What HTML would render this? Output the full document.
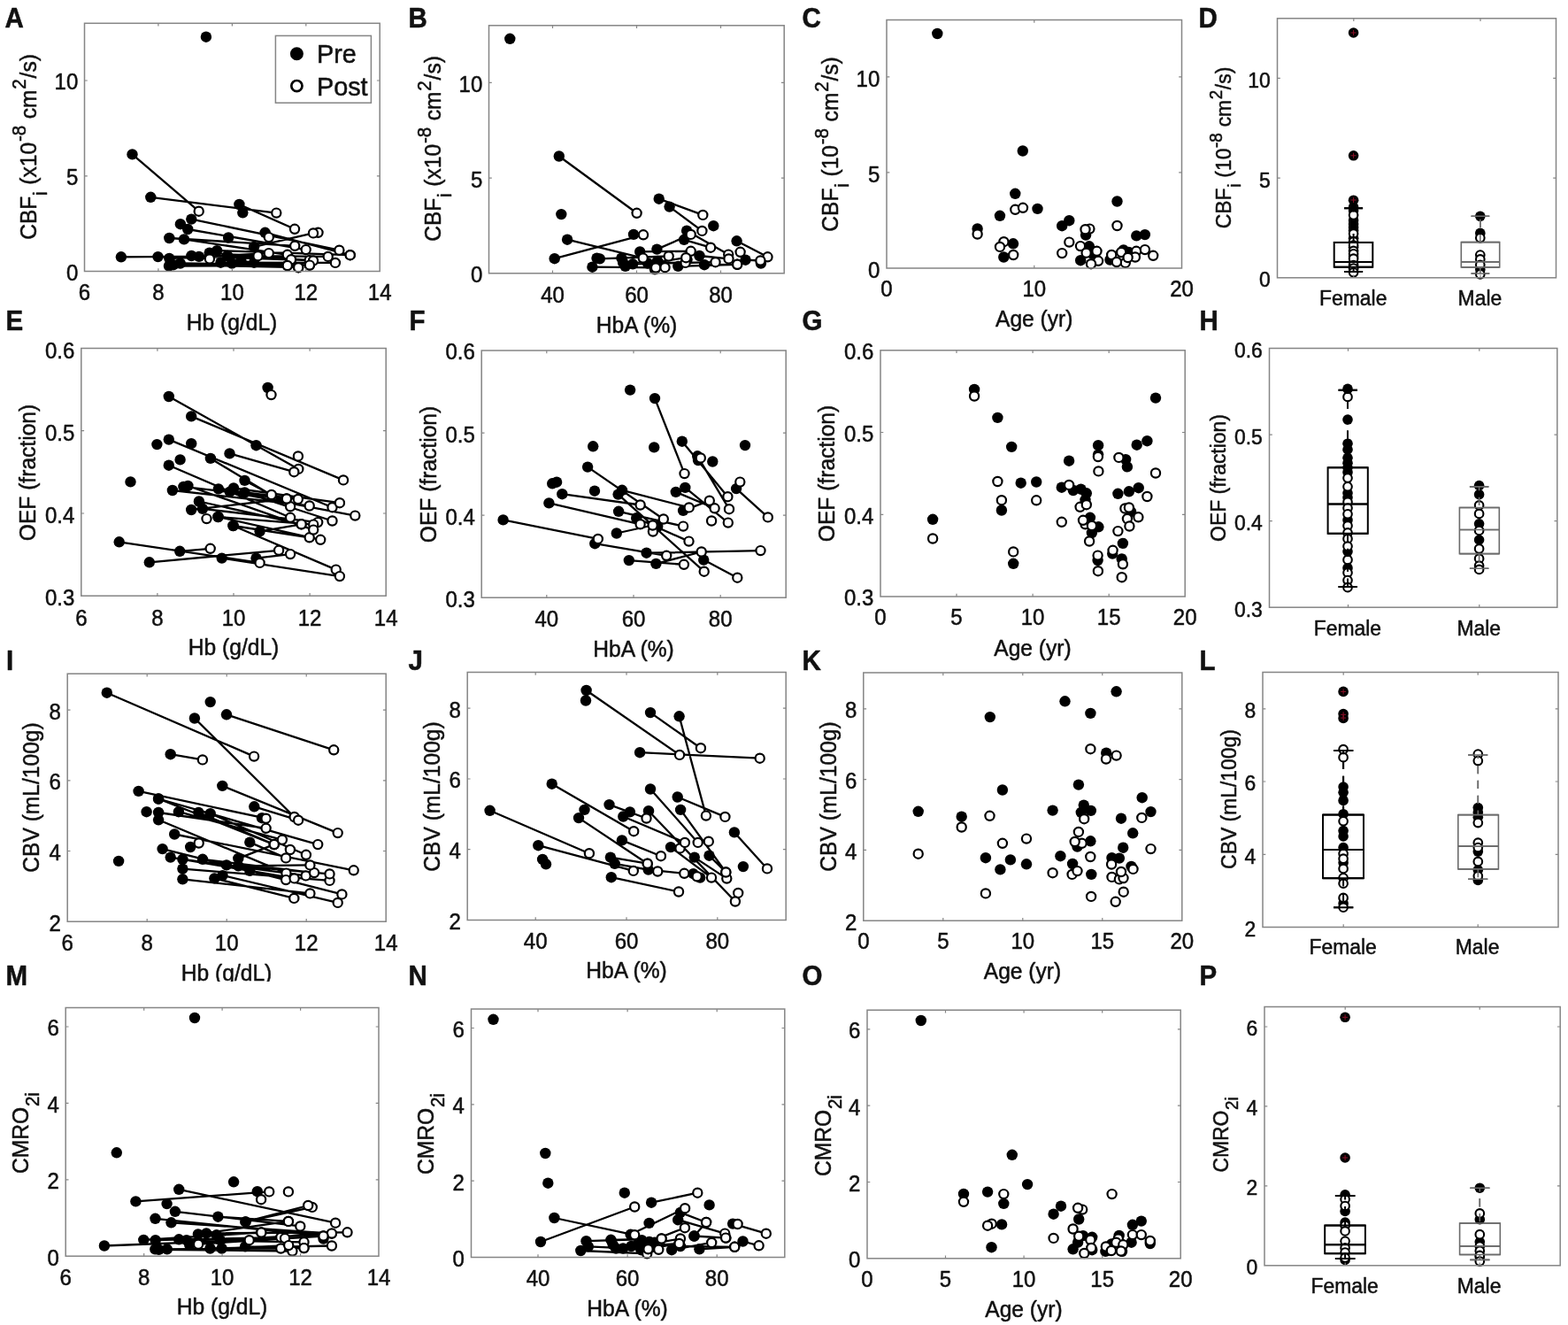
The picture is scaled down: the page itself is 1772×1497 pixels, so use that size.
<!DOCTYPE html>
<html lang="en">
<head>
<meta charset="utf-8">
<title>Figure: CBFi, OEF, CBV and CMRO2i versus Hb, HbA, age and sex (pre and post transfusion)</title>
<style>
html,body{margin:0;padding:0;background:#fff;}
body{width:1772px;height:1497px;overflow:hidden;}
svg{display:block;font-family:"Liberation Sans",Arial,Helvetica,sans-serif;fill:#111;}
text{stroke:#111;stroke-width:0.5px;stroke-linejoin:round;}
</style>
</head>
<body>
<svg width="1772" height="1497" viewBox="0 0 1772 1497">
<rect x="0" y="0" width="1772" height="1497" fill="#fff"/>
<g id="panel-A">
<path d="M149.5 174.4L224.7 238.7M170.3 222.8L312.3 240.6M270.4 231L333 258.8M216.3 247.6L383.4 282.7M212.2 259L345.7 282.1M191.3 269L333.2 277.8M208 270.4L324.8 287.8M287.1 278.9L354 263.4M136.9 290.3L291.5 289.2M191.3 292L303.8 286.1M191 300.5L324.8 300M196.1 299.2L337.2 302.2M203.7 297.5L349.9 299.6M216.4 289L329 293.3M224.9 289.9L349.7 294.1M236.7 285.6L354 294.5M245.2 283.1L395.7 288.2M249.4 296.7L378.9 296.9M262.1 297.5L324.8 300M257.1 289L370.7 289.9M272.3 295L337.2 302.2M287.1 296.7L349.9 299.6M299.6 262.8L395.7 288.2M178.5 290.1L236.9 292.4" stroke="#000" stroke-width="2.3" fill="none"/>
<g fill="#000"><circle cx="274.3" cy="240.3" r="6.2"/><circle cx="203.9" cy="253.2" r="6.2"/><circle cx="258.1" cy="268.5" r="6.2"/><circle cx="232.9" cy="41.7" r="6.2"/><circle cx="149.5" cy="174.4" r="6.2"/><circle cx="170.3" cy="222.8" r="6.2"/><circle cx="270.4" cy="231" r="6.2"/><circle cx="216.3" cy="247.6" r="6.2"/><circle cx="212.2" cy="259" r="6.2"/><circle cx="191.3" cy="269" r="6.2"/><circle cx="208" cy="270.4" r="6.2"/><circle cx="287.1" cy="278.9" r="6.2"/><circle cx="136.9" cy="290.3" r="6.2"/><circle cx="191.3" cy="292" r="6.2"/><circle cx="191" cy="300.5" r="6.2"/><circle cx="196.1" cy="299.2" r="6.2"/><circle cx="203.7" cy="297.5" r="6.2"/><circle cx="216.4" cy="289" r="6.2"/><circle cx="224.9" cy="289.9" r="6.2"/><circle cx="236.7" cy="285.6" r="6.2"/><circle cx="245.2" cy="283.1" r="6.2"/><circle cx="249.4" cy="296.7" r="6.2"/><circle cx="262.1" cy="297.5" r="6.2"/><circle cx="257.1" cy="289" r="6.2"/><circle cx="272.3" cy="295" r="6.2"/><circle cx="287.1" cy="296.7" r="6.2"/><circle cx="299.6" cy="262.8" r="6.2"/><circle cx="178.5" cy="290.1" r="6.2"/></g>
<g fill="#fff" stroke="#000" stroke-width="2.2"><circle cx="359.5" cy="262.8" r="5.1"/><circle cx="303.8" cy="268.1" r="5.1"/><circle cx="224.7" cy="238.7" r="5.1"/><circle cx="312.3" cy="240.6" r="5.1"/><circle cx="333" cy="258.8" r="5.1"/><circle cx="383.4" cy="282.7" r="5.1"/><circle cx="345.7" cy="282.1" r="5.1"/><circle cx="333.2" cy="277.8" r="5.1"/><circle cx="324.8" cy="287.8" r="5.1"/><circle cx="354" cy="263.4" r="5.1"/><circle cx="291.5" cy="289.2" r="5.1"/><circle cx="303.8" cy="286.1" r="5.1"/><circle cx="324.8" cy="300" r="5.1"/><circle cx="337.2" cy="302.2" r="5.1"/><circle cx="349.9" cy="299.6" r="5.1"/><circle cx="329" cy="293.3" r="5.1"/><circle cx="349.7" cy="294.1" r="5.1"/><circle cx="354" cy="294.5" r="5.1"/><circle cx="395.7" cy="288.2" r="5.1"/><circle cx="378.9" cy="296.9" r="5.1"/><circle cx="324.8" cy="300" r="5.1"/><circle cx="370.7" cy="289.9" r="5.1"/><circle cx="337.2" cy="302.2" r="5.1"/><circle cx="349.9" cy="299.6" r="5.1"/><circle cx="395.7" cy="288.2" r="5.1"/><circle cx="236.9" cy="292.4" r="5.1"/></g>
<rect x="95.5" y="26.3" width="333.7" height="280.2" fill="none" stroke="#858585" stroke-width="1.5"/>
<path d="M178.9 306.5v-3.3M178.9 26.3v3.3M262.4 306.5v-3.3M262.4 26.3v3.3M345.8 306.5v-3.3M345.8 26.3v3.3M95.5 198.8h3.3M429.2 198.8h-3.3M95.5 91h3.3M429.2 91h-3.3" stroke="#858585" stroke-width="1.2" fill="none"/>
<text transform="translate(95.5 339.2) scale(1 1.04)" text-anchor="middle" font-size="24">6</text>
<text transform="translate(178.9 339.2) scale(1 1.04)" text-anchor="middle" font-size="24">8</text>
<text transform="translate(262.4 339.2) scale(1 1.04)" text-anchor="middle" font-size="24">10</text>
<text transform="translate(345.8 339.2) scale(1 1.04)" text-anchor="middle" font-size="24">12</text>
<text transform="translate(429.2 339.2) scale(1 1.04)" text-anchor="middle" font-size="24">14</text>
<text transform="translate(88.3 316.9) scale(1 1.04)" text-anchor="end" font-size="24">0</text>
<text transform="translate(88.3 209.2) scale(1 1.04)" text-anchor="end" font-size="24">5</text>
<text transform="translate(88.3 101.4) scale(1 1.04)" text-anchor="end" font-size="24">10</text>
<text transform="translate(262 373) scale(1 1.04)" text-anchor="middle" font-size="24.6">Hb (g/dL)</text>
<text transform="translate(40.5 166) rotate(-90) scale(1 1.04)" text-anchor="middle" font-size="24.6">CBF<tspan dy="12" dx="0.8" font-size="20.5">i</tspan><tspan dy="-12" dx="0.8"> (x10</tspan><tspan dy="-10.8" dx="0.8" font-size="20.5">-8</tspan><tspan dy="10.8" dx="0.8"> cm</tspan><tspan dy="-10.8" dx="0.8" font-size="20.5">2</tspan><tspan dy="10.8" dx="0.8">/s)</tspan></text>
<text transform="translate(5.4 30.8) scale(1 1.04)" text-anchor="start" font-size="29.5" font-weight="bold">A</text>
<rect x="311.4" y="40.4" width="108" height="75.8" fill="#fff" stroke="#858585" stroke-width="1.5"/>
<circle cx="335.4" cy="60.8" r="7.5" fill="#000"/>
<circle cx="335.4" cy="97.1" r="6.1" fill="#fff" stroke="#000" stroke-width="2.7"/>
<text transform="translate(358 71) scale(1 1.04)" text-anchor="start" font-size="28.8">Pre</text>
<text transform="translate(358 107.6) scale(1 1.04)" text-anchor="start" font-size="28.8">Post</text>
</g>
<g id="panel-B">
<path d="M631.8 176.5L719.6 240.8M641.1 270.7L726.7 291.6M626.7 292.2L727 265.3M744.7 224.7L794.3 242.9M756.6 233.6L793.4 260.9M742.4 281.6L780.7 264.9M776.1 260.7L823.2 287.6M773.1 270.8L803.1 279.7M832.6 272.3L867.5 290.3M842.5 293.7L859.4 294.5M790.4 289L823.5 292.4M723.2 284.4L780.7 283.8M677.8 292.4L755.7 289.5M669.4 301.7L741.1 302.4M704.1 296.7L774.6 296.9M715.1 298.3L808.5 296.2M732.1 297.5L775.2 291.2M796 299.2L833.2 298.8M766.3 300.9L833.2 298.8M743.1 295L751.5 302.2" stroke="#000" stroke-width="2.3" fill="none"/>
<g fill="#000"><circle cx="634.3" cy="242.1" r="6.2"/><circle cx="806.3" cy="255.2" r="6.2"/><circle cx="576.3" cy="43.8" r="6.2"/><circle cx="859.9" cy="297.5" r="6.2"/><circle cx="716" cy="264.9" r="6.2"/><circle cx="674.5" cy="291.6" r="6.2"/><circle cx="702.4" cy="291.6" r="6.2"/><circle cx="706.7" cy="300.9" r="6.2"/><circle cx="740" cy="304.3" r="6.2"/><circle cx="776.5" cy="293.3" r="6.2"/><circle cx="631.8" cy="176.5" r="6.2"/><circle cx="641.1" cy="270.7" r="6.2"/><circle cx="626.7" cy="292.2" r="6.2"/><circle cx="744.7" cy="224.7" r="6.2"/><circle cx="756.6" cy="233.6" r="6.2"/><circle cx="742.4" cy="281.6" r="6.2"/><circle cx="776.1" cy="260.7" r="6.2"/><circle cx="773.1" cy="270.8" r="6.2"/><circle cx="832.6" cy="272.3" r="6.2"/><circle cx="842.5" cy="293.7" r="6.2"/><circle cx="790.4" cy="289" r="6.2"/><circle cx="723.2" cy="284.4" r="6.2"/><circle cx="677.8" cy="292.4" r="6.2"/><circle cx="669.4" cy="301.7" r="6.2"/><circle cx="704.1" cy="296.7" r="6.2"/><circle cx="715.1" cy="298.3" r="6.2"/><circle cx="732.1" cy="297.5" r="6.2"/><circle cx="796" cy="299.2" r="6.2"/><circle cx="766.3" cy="300.9" r="6.2"/><circle cx="743.1" cy="295" r="6.2"/></g>
<g fill="#fff" stroke="#000" stroke-width="2.2"><circle cx="836.6" cy="284.8" r="5.1"/><circle cx="719.6" cy="240.8" r="5.1"/><circle cx="726.7" cy="291.6" r="5.1"/><circle cx="727" cy="265.3" r="5.1"/><circle cx="794.3" cy="242.9" r="5.1"/><circle cx="793.4" cy="260.9" r="5.1"/><circle cx="780.7" cy="264.9" r="5.1"/><circle cx="823.2" cy="287.6" r="5.1"/><circle cx="803.1" cy="279.7" r="5.1"/><circle cx="867.5" cy="290.3" r="5.1"/><circle cx="859.4" cy="294.5" r="5.1"/><circle cx="823.5" cy="292.4" r="5.1"/><circle cx="780.7" cy="283.8" r="5.1"/><circle cx="755.7" cy="289.5" r="5.1"/><circle cx="741.1" cy="302.4" r="5.1"/><circle cx="774.6" cy="296.9" r="5.1"/><circle cx="808.5" cy="296.2" r="5.1"/><circle cx="775.2" cy="291.2" r="5.1"/><circle cx="833.2" cy="298.8" r="5.1"/><circle cx="833.2" cy="298.8" r="5.1"/><circle cx="751.5" cy="302.2" r="5.1"/></g>
<rect x="552.5" y="28.8" width="333.7" height="280" fill="none" stroke="#858585" stroke-width="1.5"/>
<path d="M624.5 308.8v-3.3M624.5 28.8v3.3M719.5 308.8v-3.3M719.5 28.8v3.3M814.5 308.8v-3.3M814.5 28.8v3.3M552.5 201.1h3.3M886.2 201.1h-3.3M552.5 93.3h3.3M886.2 93.3h-3.3" stroke="#858585" stroke-width="1.2" fill="none"/>
<text transform="translate(624.5 341.7) scale(1 1.04)" text-anchor="middle" font-size="24">40</text>
<text transform="translate(719.5 341.7) scale(1 1.04)" text-anchor="middle" font-size="24">60</text>
<text transform="translate(814.5 341.7) scale(1 1.04)" text-anchor="middle" font-size="24">80</text>
<text transform="translate(545.3 319.2) scale(1 1.04)" text-anchor="end" font-size="24">0</text>
<text transform="translate(545.3 211.5) scale(1 1.04)" text-anchor="end" font-size="24">5</text>
<text transform="translate(545.3 103.7) scale(1 1.04)" text-anchor="end" font-size="24">10</text>
<text transform="translate(719.5 375.5) scale(1 1.04)" text-anchor="middle" font-size="24.6">HbA (%)</text>
<text transform="translate(497.8 168) rotate(-90) scale(1 1.04)" text-anchor="middle" font-size="24.6">CBF<tspan dy="12" dx="0.8" font-size="20.5">i</tspan><tspan dy="-12" dx="0.8"> (x10</tspan><tspan dy="-10.8" dx="0.8" font-size="20.5">-8</tspan><tspan dy="10.8" dx="0.8"> cm</tspan><tspan dy="-10.8" dx="0.8" font-size="20.5">2</tspan><tspan dy="10.8" dx="0.8">/s)</tspan></text>
<text transform="translate(461.4 30.8) scale(1 1.04)" text-anchor="start" font-size="29.5" font-weight="bold">B</text>
</g>
<g id="panel-C">
<g fill="#000"><circle cx="1059.3" cy="38" r="6.2"/><circle cx="1155.8" cy="170.5" r="6.2"/><circle cx="1147.3" cy="218.8" r="6.2"/><circle cx="1172.5" cy="235.9" r="6.2"/><circle cx="1130" cy="243.8" r="6.2"/><circle cx="1104.6" cy="258.4" r="6.2"/><circle cx="1208.3" cy="249.2" r="6.2"/><circle cx="1200.2" cy="255.2" r="6.2"/><circle cx="1145" cy="275.3" r="6.2"/><circle cx="1134.3" cy="290.5" r="6.2"/><circle cx="1227.1" cy="265.6" r="6.2"/><circle cx="1230.9" cy="278.3" r="6.2"/><circle cx="1221.2" cy="294.2" r="6.2"/><circle cx="1262.5" cy="227.5" r="6.2"/><circle cx="1284.3" cy="266.4" r="6.2"/><circle cx="1293.9" cy="265.1" r="6.2"/><circle cx="1269.7" cy="282.5" r="6.2"/><circle cx="1275.7" cy="285" r="6.2"/><circle cx="1254.5" cy="293.5" r="6.2"/><circle cx="1234.2" cy="286.7" r="6.2"/></g>
<g fill="#fff" stroke="#000" stroke-width="2.2"><circle cx="1147.3" cy="236.8" r="5.1"/><circle cx="1156" cy="234.8" r="5.1"/><circle cx="1104.6" cy="264.5" r="5.1"/><circle cx="1134.4" cy="273.2" r="5.1"/><circle cx="1130" cy="278.9" r="5.1"/><circle cx="1145.2" cy="288" r="5.1"/><circle cx="1208.3" cy="273.6" r="5.1"/><circle cx="1200.2" cy="286.1" r="5.1"/><circle cx="1231.4" cy="258.6" r="5.1"/><circle cx="1226.5" cy="259.2" r="5.1"/><circle cx="1221" cy="278.1" r="5.1"/><circle cx="1239.5" cy="283.8" r="5.1"/><circle cx="1227.6" cy="285.7" r="5.1"/><circle cx="1241.1" cy="294.8" r="5.1"/><circle cx="1233" cy="298.2" r="5.1"/><circle cx="1262.5" cy="255" r="5.1"/><circle cx="1256.2" cy="288" r="5.1"/><circle cx="1284.1" cy="283.8" r="5.1"/><circle cx="1282.9" cy="290.5" r="5.1"/><circle cx="1267.2" cy="285" r="5.1"/><circle cx="1271.8" cy="296.9" r="5.1"/><circle cx="1261.9" cy="296" r="5.1"/><circle cx="1274.6" cy="291" r="5.1"/><circle cx="1293.9" cy="282.1" r="5.1"/><circle cx="1303.2" cy="288.8" r="5.1"/></g>
<rect x="1002" y="22.5" width="333.5" height="280.5" fill="none" stroke="#858585" stroke-width="1.5"/>
<path d="M1168.8 303v-3.3M1168.8 22.5v3.3M1002 194.9h3.3M1335.5 194.9h-3.3M1002 86.8h3.3M1335.5 86.8h-3.3" stroke="#858585" stroke-width="1.2" fill="none"/>
<text transform="translate(1002 335.2) scale(1 1.04)" text-anchor="middle" font-size="24">0</text>
<text transform="translate(1168.8 335.2) scale(1 1.04)" text-anchor="middle" font-size="24">10</text>
<text transform="translate(1335.5 335.2) scale(1 1.04)" text-anchor="middle" font-size="24">20</text>
<text transform="translate(994.3 313.9) scale(1 1.04)" text-anchor="end" font-size="24">0</text>
<text transform="translate(994.3 205.8) scale(1 1.04)" text-anchor="end" font-size="24">5</text>
<text transform="translate(994.3 97.7) scale(1 1.04)" text-anchor="end" font-size="24">10</text>
<text transform="translate(1168.7 369) scale(1 1.04)" text-anchor="middle" font-size="24.6">Age (yr)</text>
<text transform="translate(947 163) rotate(-90) scale(1 1.04)" text-anchor="middle" font-size="24.6">CBF<tspan dy="12" dx="0.8" font-size="20.5">i</tspan><tspan dy="-12" dx="0.8"> (10</tspan><tspan dy="-10.8" dx="0.8" font-size="20.5">-8</tspan><tspan dy="10.8" dx="0.8"> cm</tspan><tspan dy="-10.8" dx="0.8" font-size="20.5">2</tspan><tspan dy="10.8" dx="0.8">/s)</tspan></text>
<text transform="translate(906.4 30.8) scale(1 1.04)" text-anchor="start" font-size="29.5" font-weight="bold">C</text>
</g>
<g id="panel-D">
<path d="M1526.1 37h7M1529.6 33.5v7" stroke="#a01030" stroke-width="1.1"/>
<path d="M1526.1 175.8h7M1529.6 172.3v7" stroke="#a01030" stroke-width="1.1"/>
<path d="M1526.1 226h7M1529.6 222.5v7" stroke="#a01030" stroke-width="1.1"/>
<path d="M1529.6 235.3V273.9" stroke="#000" stroke-width="2.0" stroke-dasharray="9.3 7.6" stroke-dashoffset="5" fill="none"/><path d="M1529.6 301.7V307" stroke="#000" stroke-width="2.0" stroke-dasharray="9.3 7.6" stroke-dashoffset="0" fill="none"/>
<path d="M1519.1 235.3H1540.1M1519.1 307H1540.1M1507.7 295.9H1551.3" stroke="#000" stroke-width="2.0" fill="none"/>
<rect x="1507.7" y="273.9" width="43.6" height="27.8" fill="none" stroke="#000" stroke-width="2.0"/>
<path d="M1672.8 244.3V273.6" stroke="#6b6b6b" stroke-width="1.6" stroke-dasharray="9.3 8.1" stroke-dashoffset="14" fill="none"/><path d="M1672.8 301.9V309" stroke="#6b6b6b" stroke-width="1.6" stroke-dasharray="9.3 8.1" stroke-dashoffset="0" fill="none"/>
<path d="M1662.5 244.3H1683.3M1662.5 309H1683.3M1651.3 295.9H1694.7" stroke="#6b6b6b" stroke-width="1.6" fill="none"/>
<rect x="1651.3" y="273.6" width="43.4" height="28.3" fill="none" stroke="#6b6b6b" stroke-width="1.6"/>
<circle cx="1529.6" cy="37" r="5.8" fill="#000"/><circle cx="1529.6" cy="175.8" r="5.8" fill="#000"/><circle cx="1529.6" cy="226.2" r="5.8" fill="#000"/><circle cx="1529.6" cy="234" r="5.8" fill="#000"/><circle cx="1529.6" cy="238" r="5.8" fill="#000"/><circle cx="1529.6" cy="249" r="5.8" fill="#000"/><circle cx="1529.6" cy="253" r="5.8" fill="#000"/><circle cx="1529.6" cy="257" r="5.8" fill="#000"/><circle cx="1529.6" cy="260.5" r="5.8" fill="#000"/><circle cx="1529.6" cy="269.2" r="5.8" fill="#000"/><circle cx="1529.6" cy="279.3" r="5.8" fill="#000"/><circle cx="1529.6" cy="290" r="5.8" fill="#000"/><circle cx="1529.6" cy="296.5" r="5.8" fill="#000"/><circle cx="1529.6" cy="304" r="5.8" fill="#000"/><circle cx="1529.6" cy="243.1" r="4.800000000000001" fill="#fff" stroke="#000" stroke-width="2.1"/><circle cx="1529.6" cy="264.1" r="4.800000000000001" fill="#fff" stroke="#000" stroke-width="2.1"/><circle cx="1529.6" cy="272.9" r="4.800000000000001" fill="#fff" stroke="#000" stroke-width="2.1"/><circle cx="1529.6" cy="277" r="4.800000000000001" fill="#fff" stroke="#000" stroke-width="2.1"/><circle cx="1529.6" cy="283.4" r="4.800000000000001" fill="#fff" stroke="#000" stroke-width="2.1"/><circle cx="1529.6" cy="286.8" r="4.800000000000001" fill="#fff" stroke="#000" stroke-width="2.1"/><circle cx="1529.6" cy="292.2" r="4.800000000000001" fill="#fff" stroke="#000" stroke-width="2.1"/><circle cx="1529.6" cy="299.6" r="4.800000000000001" fill="#fff" stroke="#000" stroke-width="2.1"/><circle cx="1529.6" cy="303" r="4.800000000000001" fill="#fff" stroke="#000" stroke-width="2.1"/><circle cx="1529.6" cy="307.8" r="4.800000000000001" fill="#fff" stroke="#000" stroke-width="2.1"/><circle cx="1672.8" cy="244.3" r="5.8" fill="#000"/><circle cx="1672.8" cy="263.4" r="5.8" fill="#000"/><circle cx="1672.8" cy="304.4" r="5.8" fill="#000"/><circle cx="1672.8" cy="268.8" r="4.800000000000001" fill="#fff" stroke="#000" stroke-width="2.1"/><circle cx="1672.8" cy="288.1" r="4.800000000000001" fill="#fff" stroke="#000" stroke-width="2.1"/><circle cx="1672.8" cy="292.9" r="4.800000000000001" fill="#fff" stroke="#000" stroke-width="2.1"/><circle cx="1672.8" cy="299.3" r="4.800000000000001" fill="#fff" stroke="#000" stroke-width="2.1"/><circle cx="1672.8" cy="309.8" r="4.800000000000001" fill="#fff" stroke="#000" stroke-width="2.1"/>
<path d="M1519.1 235.3H1540.1M1519.1 307H1540.1M1507.7 295.9H1551.3M1507.7 273.9H1551.3M1507.7 301.7H1551.3" stroke="#000" stroke-width="2.0" fill="none" opacity="1"/>
<path d="M1529.6 235.3V273.9" stroke="#000" stroke-width="2.0" stroke-dasharray="9.3 7.6" stroke-dashoffset="5" fill="none"/><path d="M1529.6 301.7V307" stroke="#000" stroke-width="2.0" stroke-dasharray="9.3 7.6" stroke-dashoffset="0" fill="none"/>
<path d="M1526.6 37h6M1529.6 34v6" stroke="#8e1028" stroke-width="1"/>
<path d="M1526.6 175.8h6M1529.6 172.8v6" stroke="#8e1028" stroke-width="1"/>
<path d="M1526.6 226h6M1529.6 223v6" stroke="#8e1028" stroke-width="1"/>
<path d="M1662.5 244.3H1683.3M1662.5 309H1683.3M1651.3 295.9H1694.7M1651.3 273.6H1694.7M1651.3 301.9H1694.7" stroke="#6b6b6b" stroke-width="1.6" fill="none" opacity="1"/>
<path d="M1672.8 244.3V273.6" stroke="#6b6b6b" stroke-width="1.6" stroke-dasharray="9.3 8.1" stroke-dashoffset="14" fill="none"/><path d="M1672.8 301.9V309" stroke="#6b6b6b" stroke-width="1.6" stroke-dasharray="9.3 8.1" stroke-dashoffset="0" fill="none"/>
<rect x="1443.5" y="20.8" width="315" height="293" fill="none" stroke="#858585" stroke-width="1.5"/>
<path d="M1529.8 313.8v-3.3M1529.8 20.8v3.3M1673 313.8v-3.3M1673 20.8v3.3M1443.5 201.1h3.3M1758.5 201.1h-3.3M1443.5 88.3h3.3M1758.5 88.3h-3.3" stroke="#858585" stroke-width="1.2" fill="none"/>
<text transform="translate(1529.2 344.5) scale(1 1.04)" text-anchor="middle" font-size="22.9">Female</text>
<text transform="translate(1672.4 344.5) scale(1 1.04)" text-anchor="middle" font-size="22.9">Male</text>
<text transform="translate(1435.8 324.2) scale(1 1.04)" text-anchor="end" font-size="22.9">0</text>
<text transform="translate(1435.8 211.5) scale(1 1.04)" text-anchor="end" font-size="22.9">5</text>
<text transform="translate(1435.8 98.7) scale(1 1.04)" text-anchor="end" font-size="22.9">10</text>
<text transform="translate(1391 167) rotate(-90) scale(1 1.04)" text-anchor="middle" font-size="22.9">CBF<tspan dy="11" dx="0.6" font-size="18.8">i</tspan><tspan dy="-11" dx="0.6"> (10</tspan><tspan dy="-10" dx="0.6" font-size="18.8">-8</tspan><tspan dy="10" dx="0.6"> cm</tspan><tspan dy="-10" dx="0.6" font-size="18.8">2</tspan><tspan dy="10" dx="0.6">/s)</tspan></text>
<text transform="translate(1354.4 30.8) scale(1 1.04)" text-anchor="start" font-size="29.5" font-weight="bold">D</text>
</g>
<g id="panel-E">
<path d="M190.8 448L337.3 529.9M216.2 470.4L388 542.4M259.5 512.4L332.3 533.2M190.8 496.6L375.5 573.2M237.9 517.9L328.1 572.3M190.8 525.7L328.1 584.8M276.5 542.9L306.8 559M246.9 552.4L336.8 564M194.9 554L349.7 571.5M207.4 549.9L323.9 563.5M264 551.5L383.9 568.2M259.8 555.7L401.3 582.6M276.5 556.5L375.5 588.5M224.9 566.5L340.6 592.3M229 574.8L359.2 590.1M216.2 576L323.9 563.5M246.5 584L354.2 592.6M263.5 594L379.7 643.6M293.6 600.3L340.6 592.3M263.5 594L349.7 607.3M246.5 584L362.2 609.8M134.7 612.3L293.6 635.9M203.2 622.8L237.7 619.8M168.8 635.3L315.1 621.8M250.7 630.6L383.9 651.1M289.5 630.6L328.1 626.1M212.4 549L354.2 598.6" stroke="#000" stroke-width="2.3" fill="none"/>
<g fill="#000"><circle cx="302.6" cy="438" r="6.2"/><circle cx="177.4" cy="502.1" r="6.2"/><circle cx="216.2" cy="501.2" r="6.2"/><circle cx="289.5" cy="503.2" r="6.2"/><circle cx="203.6" cy="519.4" r="6.2"/><circle cx="147.5" cy="544.4" r="6.2"/><circle cx="190.8" cy="448" r="6.2"/><circle cx="216.2" cy="470.4" r="6.2"/><circle cx="259.5" cy="512.4" r="6.2"/><circle cx="190.8" cy="496.6" r="6.2"/><circle cx="237.9" cy="517.9" r="6.2"/><circle cx="190.8" cy="525.7" r="6.2"/><circle cx="276.5" cy="542.9" r="6.2"/><circle cx="246.9" cy="552.4" r="6.2"/><circle cx="194.9" cy="554" r="6.2"/><circle cx="207.4" cy="549.9" r="6.2"/><circle cx="264" cy="551.5" r="6.2"/><circle cx="259.8" cy="555.7" r="6.2"/><circle cx="276.5" cy="556.5" r="6.2"/><circle cx="224.9" cy="566.5" r="6.2"/><circle cx="229" cy="574.8" r="6.2"/><circle cx="216.2" cy="576" r="6.2"/><circle cx="246.5" cy="584" r="6.2"/><circle cx="263.5" cy="594" r="6.2"/><circle cx="293.6" cy="600.3" r="6.2"/><circle cx="263.5" cy="594" r="6.2"/><circle cx="246.5" cy="584" r="6.2"/><circle cx="134.7" cy="612.3" r="6.2"/><circle cx="203.2" cy="622.8" r="6.2"/><circle cx="168.8" cy="635.3" r="6.2"/><circle cx="250.7" cy="630.6" r="6.2"/><circle cx="289.5" cy="630.6" r="6.2"/><circle cx="212.4" cy="549" r="6.2"/></g>
<g fill="#fff" stroke="#000" stroke-width="2.2"><circle cx="306.5" cy="446.1" r="5.1"/><circle cx="336.9" cy="515.4" r="5.1"/><circle cx="233.5" cy="586.1" r="5.1"/><circle cx="337.3" cy="529.9" r="5.1"/><circle cx="388" cy="542.4" r="5.1"/><circle cx="332.3" cy="533.2" r="5.1"/><circle cx="375.5" cy="573.2" r="5.1"/><circle cx="328.1" cy="572.3" r="5.1"/><circle cx="328.1" cy="584.8" r="5.1"/><circle cx="306.8" cy="559" r="5.1"/><circle cx="336.8" cy="564" r="5.1"/><circle cx="349.7" cy="571.5" r="5.1"/><circle cx="323.9" cy="563.5" r="5.1"/><circle cx="383.9" cy="568.2" r="5.1"/><circle cx="401.3" cy="582.6" r="5.1"/><circle cx="375.5" cy="588.5" r="5.1"/><circle cx="340.6" cy="592.3" r="5.1"/><circle cx="359.2" cy="590.1" r="5.1"/><circle cx="323.9" cy="563.5" r="5.1"/><circle cx="354.2" cy="592.6" r="5.1"/><circle cx="379.7" cy="643.6" r="5.1"/><circle cx="340.6" cy="592.3" r="5.1"/><circle cx="349.7" cy="607.3" r="5.1"/><circle cx="362.2" cy="609.8" r="5.1"/><circle cx="293.6" cy="635.9" r="5.1"/><circle cx="237.7" cy="619.8" r="5.1"/><circle cx="315.1" cy="621.8" r="5.1"/><circle cx="383.9" cy="651.1" r="5.1"/><circle cx="328.1" cy="626.1" r="5.1"/><circle cx="354.2" cy="598.6" r="5.1"/></g>
<rect x="91.8" y="393.5" width="344.4" height="279.7" fill="none" stroke="#858585" stroke-width="1.5"/>
<path d="M177.9 673.2v-3.3M177.9 393.5v3.3M264 673.2v-3.3M264 393.5v3.3M350.1 673.2v-3.3M350.1 393.5v3.3M91.8 580h3.3M436.2 580h-3.3M91.8 486.7h3.3M436.2 486.7h-3.3" stroke="#858585" stroke-width="1.2" fill="none"/>
<text transform="translate(91.8 706.7) scale(1 1.04)" text-anchor="middle" font-size="24">6</text>
<text transform="translate(177.9 706.7) scale(1 1.04)" text-anchor="middle" font-size="24">8</text>
<text transform="translate(264 706.7) scale(1 1.04)" text-anchor="middle" font-size="24">10</text>
<text transform="translate(350.1 706.7) scale(1 1.04)" text-anchor="middle" font-size="24">12</text>
<text transform="translate(436.2 706.7) scale(1 1.04)" text-anchor="middle" font-size="24">14</text>
<text transform="translate(84.3 684.2) scale(1 1.04)" text-anchor="end" font-size="24">0.3</text>
<text transform="translate(84.3 591) scale(1 1.04)" text-anchor="end" font-size="24">0.4</text>
<text transform="translate(84.3 497.7) scale(1 1.04)" text-anchor="end" font-size="24">0.5</text>
<text transform="translate(84.3 404.5) scale(1 1.04)" text-anchor="end" font-size="24">0.6</text>
<text transform="translate(264 739.5) scale(1 1.04)" text-anchor="middle" font-size="24.6">Hb (g/dL)</text>
<text transform="translate(39.5 534) rotate(-90) scale(1 1.04)" text-anchor="middle" font-size="24.6">OEF (fraction)</text>
<text transform="translate(6.4 372.7) scale(1 1.04)" text-anchor="start" font-size="29.5" font-weight="bold">E</text>
</g>
<g id="panel-F">
<path d="M740 450.1L773.5 535.1M770.8 498.7L822.4 561.2M788.2 515.3L824 575.2M664.1 527.6L749.8 586.5M703 553.8L778.7 573.4M698.6 558.6L795.7 645.7M635.3 558.2L723.6 570.5M620.4 568.4L723.6 592.3M568.6 587.4L675.8 608.9M672.3 614.2L753.2 627.8M730.6 624.7L859.5 622.1M741.4 636.9L792.7 623.5M710.8 633.1L772.9 637.8M795.2 632.6L833.3 652.7M832.1 552.1L867.8 584.4M772.1 576.9L801.8 565.7M763.8 555.9L807.6 574.3M774.3 550.9L822.8 590.6M699.1 577.8L772.1 594.6M719.2 585.3L778.5 611.6M696.8 602.5L737.6 593.5" stroke="#000" stroke-width="2.3" fill="none"/>
<g fill="#000"><circle cx="712.1" cy="440.6" r="6.2"/><circle cx="670.2" cy="504.3" r="6.2"/><circle cx="739.2" cy="505.4" r="6.2"/><circle cx="805.3" cy="521.5" r="6.2"/><circle cx="842" cy="503.1" r="6.2"/><circle cx="624.2" cy="546.3" r="6.2"/><circle cx="672" cy="554.7" r="6.2"/><circle cx="743.2" cy="594.9" r="6.2"/><circle cx="629.1" cy="544.7" r="6.2"/><circle cx="789" cy="520.1" r="6.2"/><circle cx="740" cy="450.1" r="6.2"/><circle cx="770.8" cy="498.7" r="6.2"/><circle cx="788.2" cy="515.3" r="6.2"/><circle cx="664.1" cy="527.6" r="6.2"/><circle cx="703" cy="553.8" r="6.2"/><circle cx="698.6" cy="558.6" r="6.2"/><circle cx="635.3" cy="558.2" r="6.2"/><circle cx="620.4" cy="568.4" r="6.2"/><circle cx="568.6" cy="587.4" r="6.2"/><circle cx="672.3" cy="614.2" r="6.2"/><circle cx="730.6" cy="624.7" r="6.2"/><circle cx="741.4" cy="636.9" r="6.2"/><circle cx="710.8" cy="633.1" r="6.2"/><circle cx="795.2" cy="632.6" r="6.2"/><circle cx="832.1" cy="552.1" r="6.2"/><circle cx="772.1" cy="576.9" r="6.2"/><circle cx="763.8" cy="555.9" r="6.2"/><circle cx="774.3" cy="550.9" r="6.2"/><circle cx="699.1" cy="577.8" r="6.2"/><circle cx="719.2" cy="585.3" r="6.2"/><circle cx="696.8" cy="602.5" r="6.2"/></g>
<g fill="#fff" stroke="#000" stroke-width="2.2"><circle cx="791.8" cy="517.4" r="5.1"/><circle cx="836.3" cy="544.6" r="5.1"/><circle cx="804.1" cy="588.5" r="5.1"/><circle cx="737.9" cy="600.5" r="5.1"/><circle cx="773.5" cy="535.1" r="5.1"/><circle cx="822.4" cy="561.2" r="5.1"/><circle cx="824" cy="575.2" r="5.1"/><circle cx="749.8" cy="586.5" r="5.1"/><circle cx="778.7" cy="573.4" r="5.1"/><circle cx="795.7" cy="645.7" r="5.1"/><circle cx="723.6" cy="570.5" r="5.1"/><circle cx="723.6" cy="592.3" r="5.1"/><circle cx="675.8" cy="608.9" r="5.1"/><circle cx="753.2" cy="627.8" r="5.1"/><circle cx="859.5" cy="622.1" r="5.1"/><circle cx="792.7" cy="623.5" r="5.1"/><circle cx="772.9" cy="637.8" r="5.1"/><circle cx="833.3" cy="652.7" r="5.1"/><circle cx="867.8" cy="584.4" r="5.1"/><circle cx="801.8" cy="565.7" r="5.1"/><circle cx="807.6" cy="574.3" r="5.1"/><circle cx="822.8" cy="590.6" r="5.1"/><circle cx="772.1" cy="594.6" r="5.1"/><circle cx="778.5" cy="611.6" r="5.1"/><circle cx="737.6" cy="593.5" r="5.1"/></g>
<rect x="544.2" y="396" width="344" height="279.2" fill="none" stroke="#858585" stroke-width="1.5"/>
<path d="M617.8 675.2v-3.3M617.8 396v3.3M716 675.2v-3.3M716 396v3.3M814.2 675.2v-3.3M814.2 396v3.3M544.2 582.1h3.3M888.2 582.1h-3.3M544.2 489.1h3.3M888.2 489.1h-3.3" stroke="#858585" stroke-width="1.2" fill="none"/>
<text transform="translate(617.8 707.7) scale(1 1.04)" text-anchor="middle" font-size="24">40</text>
<text transform="translate(716 707.7) scale(1 1.04)" text-anchor="middle" font-size="24">60</text>
<text transform="translate(814.2 707.7) scale(1 1.04)" text-anchor="middle" font-size="24">80</text>
<text transform="translate(536.8 685.6) scale(1 1.04)" text-anchor="end" font-size="24">0.3</text>
<text transform="translate(536.8 592.5) scale(1 1.04)" text-anchor="end" font-size="24">0.4</text>
<text transform="translate(536.8 499.5) scale(1 1.04)" text-anchor="end" font-size="24">0.5</text>
<text transform="translate(536.8 406.4) scale(1 1.04)" text-anchor="end" font-size="24">0.6</text>
<text transform="translate(716 742) scale(1 1.04)" text-anchor="middle" font-size="24.6">HbA (%)</text>
<text transform="translate(493.3 536) rotate(-90) scale(1 1.04)" text-anchor="middle" font-size="24.6">OEF (fraction)</text>
<text transform="translate(462.4 372.7) scale(1 1.04)" text-anchor="start" font-size="29.5" font-weight="bold">F</text>
</g>
<g id="panel-G">
<g fill="#000"><circle cx="1101.1" cy="440" r="6.2"/><circle cx="1127.4" cy="471.9" r="6.2"/><circle cx="1143.2" cy="504.9" r="6.2"/><circle cx="1306" cy="449.6" r="6.2"/><circle cx="1241.1" cy="503.2" r="6.2"/><circle cx="1284.7" cy="502.7" r="6.2"/><circle cx="1296.4" cy="498.2" r="6.2"/><circle cx="1208.1" cy="520.7" r="6.2"/><circle cx="1241.1" cy="513.6" r="6.2"/><circle cx="1272.2" cy="519.1" r="6.2"/><circle cx="1273.9" cy="527.4" r="6.2"/><circle cx="1153.7" cy="545.7" r="6.2"/><circle cx="1171.2" cy="544.5" r="6.2"/><circle cx="1199.8" cy="550.7" r="6.2"/><circle cx="1212.8" cy="554" r="6.2"/><circle cx="1221.5" cy="552.7" r="6.2"/><circle cx="1227.8" cy="557.3" r="6.2"/><circle cx="1263.4" cy="557.8" r="6.2"/><circle cx="1275.9" cy="555.3" r="6.2"/><circle cx="1286.7" cy="551.2" r="6.2"/><circle cx="1131.9" cy="576.5" r="6.2"/><circle cx="1054.1" cy="586.8" r="6.2"/><circle cx="1231.9" cy="584.8" r="6.2"/><circle cx="1241.4" cy="595.3" r="6.2"/><circle cx="1233.9" cy="602" r="6.2"/><circle cx="1268.9" cy="613.9" r="6.2"/><circle cx="1145.2" cy="636.8" r="6.2"/><circle cx="1240.6" cy="633.1" r="6.2"/><circle cx="1257.2" cy="625.6" r="6.2"/><circle cx="1267.7" cy="631.4" r="6.2"/><circle cx="1226.5" cy="564.8" r="6.2"/><circle cx="1278.1" cy="578.2" r="6.2"/></g>
<g fill="#fff" stroke="#000" stroke-width="2.2"><circle cx="1101.1" cy="447.5" r="5.1"/><circle cx="1127.4" cy="544" r="5.1"/><circle cx="1131.9" cy="565.2" r="5.1"/><circle cx="1171.2" cy="565.3" r="5.1"/><circle cx="1208.1" cy="547.9" r="5.1"/><circle cx="1240.9" cy="516.1" r="5.1"/><circle cx="1241.4" cy="532.4" r="5.1"/><circle cx="1264.4" cy="516.9" r="5.1"/><circle cx="1306" cy="534.5" r="5.1"/><circle cx="1220.6" cy="572.8" r="5.1"/><circle cx="1227.8" cy="570.2" r="5.1"/><circle cx="1296.4" cy="561" r="5.1"/><circle cx="1271.4" cy="574.5" r="5.1"/><circle cx="1275.9" cy="573.5" r="5.1"/><circle cx="1286.4" cy="584.3" r="5.1"/><circle cx="1273.9" cy="586.1" r="5.1"/><circle cx="1276.4" cy="594.5" r="5.1"/><circle cx="1199.8" cy="589.8" r="5.1"/><circle cx="1226.5" cy="592.3" r="5.1"/><circle cx="1224" cy="587.8" r="5.1"/><circle cx="1233.9" cy="594" r="5.1"/><circle cx="1263.4" cy="600.1" r="5.1"/><circle cx="1231.1" cy="611.5" r="5.1"/><circle cx="1054.1" cy="608.5" r="5.1"/><circle cx="1145.2" cy="623.4" r="5.1"/><circle cx="1240.6" cy="627.6" r="5.1"/><circle cx="1257.6" cy="621.8" r="5.1"/><circle cx="1268.9" cy="637.3" r="5.1"/><circle cx="1240.9" cy="645.2" r="5.1"/><circle cx="1267.7" cy="652.2" r="5.1"/></g>
<rect x="995" y="395.8" width="344.2" height="278.2" fill="none" stroke="#858585" stroke-width="1.5"/>
<path d="M1081 674v-3.3M1081 395.8v3.3M1167.1 674v-3.3M1167.1 395.8v3.3M1253.2 674v-3.3M1253.2 395.8v3.3M995 581.3h3.3M1339.2 581.3h-3.3M995 488.5h3.3M1339.2 488.5h-3.3" stroke="#858585" stroke-width="1.2" fill="none"/>
<text transform="translate(995 706.2) scale(1 1.04)" text-anchor="middle" font-size="24">0</text>
<text transform="translate(1081 706.2) scale(1 1.04)" text-anchor="middle" font-size="24">5</text>
<text transform="translate(1167.1 706.2) scale(1 1.04)" text-anchor="middle" font-size="24">10</text>
<text transform="translate(1253.2 706.2) scale(1 1.04)" text-anchor="middle" font-size="24">15</text>
<text transform="translate(1339.2 706.2) scale(1 1.04)" text-anchor="middle" font-size="24">20</text>
<text transform="translate(987.3 684.4) scale(1 1.04)" text-anchor="end" font-size="24">0.3</text>
<text transform="translate(987.3 591.7) scale(1 1.04)" text-anchor="end" font-size="24">0.4</text>
<text transform="translate(987.3 498.9) scale(1 1.04)" text-anchor="end" font-size="24">0.5</text>
<text transform="translate(987.3 406.2) scale(1 1.04)" text-anchor="end" font-size="24">0.6</text>
<text transform="translate(1167 741) scale(1 1.04)" text-anchor="middle" font-size="24.6">Age (yr)</text>
<text transform="translate(943 535) rotate(-90) scale(1 1.04)" text-anchor="middle" font-size="24.6">OEF (fraction)</text>
<text transform="translate(906.4 372.7) scale(1 1.04)" text-anchor="start" font-size="29.5" font-weight="bold">G</text>
</g>
<g id="panel-H">
<path d="M1523 440.7V528.3" stroke="#000" stroke-width="2.0" stroke-dasharray="9.3 7.6" stroke-dashoffset="5" fill="none"/><path d="M1523 602.8V662.9" stroke="#000" stroke-width="2.0" stroke-dasharray="9.3 7.6" stroke-dashoffset="0" fill="none"/>
<path d="M1512.5 440.7H1534M1512.5 662.9H1534M1500.6 569.4H1545.8" stroke="#000" stroke-width="2.0" fill="none"/>
<rect x="1500.6" y="528.3" width="45.2" height="74.5" fill="none" stroke="#000" stroke-width="2.0"/>
<path d="M1671.6 549.9V573.5" stroke="#6b6b6b" stroke-width="1.6" stroke-dasharray="9.3 7.6" stroke-dashoffset="5" fill="none"/><path d="M1671.6 625.6V642.2" stroke="#6b6b6b" stroke-width="1.6" stroke-dasharray="9.3 7.6" stroke-dashoffset="0" fill="none"/>
<path d="M1660.9 549.9H1682.4M1660.9 642.2H1682.4M1649.4 598.5H1694.3" stroke="#6b6b6b" stroke-width="1.6" fill="none"/>
<rect x="1649.4" y="573.5" width="44.9" height="52.1" fill="none" stroke="#6b6b6b" stroke-width="1.6"/>
<circle cx="1523" cy="439.4" r="5.8" fill="#000"/><circle cx="1523" cy="474.1" r="5.8" fill="#000"/><circle cx="1523" cy="501.2" r="5.8" fill="#000"/><circle cx="1523" cy="508" r="5.8" fill="#000"/><circle cx="1523" cy="517.3" r="5.8" fill="#000"/><circle cx="1523" cy="523.2" r="5.8" fill="#000"/><circle cx="1523" cy="528.3" r="5.8" fill="#000"/><circle cx="1523" cy="533.4" r="5.8" fill="#000"/><circle cx="1523" cy="557.1" r="5.8" fill="#000"/><circle cx="1523" cy="562.1" r="5.8" fill="#000"/><circle cx="1523" cy="587.5" r="5.8" fill="#000"/><circle cx="1523" cy="623.1" r="5.8" fill="#000"/><circle cx="1523" cy="641.7" r="5.8" fill="#000"/><circle cx="1523" cy="448.4" r="4.800000000000001" fill="#fff" stroke="#000" stroke-width="2.1"/><circle cx="1523" cy="540.1" r="4.800000000000001" fill="#fff" stroke="#000" stroke-width="2.1"/><circle cx="1523" cy="549.8" r="4.800000000000001" fill="#fff" stroke="#000" stroke-width="2.1"/><circle cx="1523" cy="567.2" r="4.800000000000001" fill="#fff" stroke="#000" stroke-width="2.1"/><circle cx="1523" cy="574" r="4.800000000000001" fill="#fff" stroke="#000" stroke-width="2.1"/><circle cx="1523" cy="580.8" r="4.800000000000001" fill="#fff" stroke="#000" stroke-width="2.1"/><circle cx="1523" cy="594" r="4.800000000000001" fill="#fff" stroke="#000" stroke-width="2.1"/><circle cx="1523" cy="601.9" r="4.800000000000001" fill="#fff" stroke="#000" stroke-width="2.1"/><circle cx="1523" cy="608.7" r="4.800000000000001" fill="#fff" stroke="#000" stroke-width="2.1"/><circle cx="1523" cy="617.2" r="4.800000000000001" fill="#fff" stroke="#000" stroke-width="2.1"/><circle cx="1523" cy="632.4" r="4.800000000000001" fill="#fff" stroke="#000" stroke-width="2.1"/><circle cx="1523" cy="647.1" r="4.800000000000001" fill="#fff" stroke="#000" stroke-width="2.1"/><circle cx="1523" cy="655.6" r="4.800000000000001" fill="#fff" stroke="#000" stroke-width="2.1"/><circle cx="1523" cy="663.7" r="4.800000000000001" fill="#fff" stroke="#000" stroke-width="2.1"/><circle cx="1671.6" cy="548.6" r="5.8" fill="#000"/><circle cx="1671.6" cy="558.7" r="5.8" fill="#000"/><circle cx="1671.6" cy="591.8" r="5.8" fill="#000"/><circle cx="1671.6" cy="610" r="5.8" fill="#000"/><circle cx="1671.6" cy="570.9" r="4.800000000000001" fill="#fff" stroke="#000" stroke-width="2.1"/><circle cx="1671.6" cy="580.4" r="4.800000000000001" fill="#fff" stroke="#000" stroke-width="2.1"/><circle cx="1671.6" cy="599.4" r="4.800000000000001" fill="#fff" stroke="#000" stroke-width="2.1"/><circle cx="1671.6" cy="620" r="4.800000000000001" fill="#fff" stroke="#000" stroke-width="2.1"/><circle cx="1671.6" cy="631.2" r="4.800000000000001" fill="#fff" stroke="#000" stroke-width="2.1"/><circle cx="1671.6" cy="639.2" r="4.800000000000001" fill="#fff" stroke="#000" stroke-width="2.1"/><circle cx="1671.6" cy="643.4" r="4.800000000000001" fill="#fff" stroke="#000" stroke-width="2.1"/>
<path d="M1512.5 440.7H1534M1512.5 662.9H1534M1500.6 569.4H1545.8M1500.6 528.3H1545.8M1500.6 602.8H1545.8" stroke="#000" stroke-width="2.0" fill="none" opacity="1"/>
<path d="M1523 440.7V528.3" stroke="#000" stroke-width="2.0" stroke-dasharray="9.3 7.6" stroke-dashoffset="5" fill="none"/><path d="M1523 602.8V662.9" stroke="#000" stroke-width="2.0" stroke-dasharray="9.3 7.6" stroke-dashoffset="0" fill="none"/>
<path d="M1660.9 549.9H1682.4M1660.9 642.2H1682.4M1649.4 598.5H1694.3M1649.4 573.5H1694.3M1649.4 625.6H1694.3" stroke="#6b6b6b" stroke-width="1.6" fill="none" opacity="1"/>
<path d="M1671.6 549.9V573.5" stroke="#6b6b6b" stroke-width="1.6" stroke-dasharray="9.3 7.6" stroke-dashoffset="5" fill="none"/><path d="M1671.6 625.6V642.2" stroke="#6b6b6b" stroke-width="1.6" stroke-dasharray="9.3 7.6" stroke-dashoffset="0" fill="none"/>
<rect x="1434.5" y="393.5" width="325.3" height="292.7" fill="none" stroke="#858585" stroke-width="1.5"/>
<path d="M1523.5 686.2v-3.3M1523.5 393.5v3.3M1671.8 686.2v-3.3M1671.8 393.5v3.3M1434.5 588.6h3.3M1759.8 588.6h-3.3M1434.5 491.1h3.3M1759.8 491.1h-3.3" stroke="#858585" stroke-width="1.2" fill="none"/>
<text transform="translate(1522.9 717.5) scale(1 1.04)" text-anchor="middle" font-size="22.9">Female</text>
<text transform="translate(1671.2 717.5) scale(1 1.04)" text-anchor="middle" font-size="22.9">Male</text>
<text transform="translate(1426.8 696.6) scale(1 1.04)" text-anchor="end" font-size="22.9">0.3</text>
<text transform="translate(1426.8 599) scale(1 1.04)" text-anchor="end" font-size="22.9">0.4</text>
<text transform="translate(1426.8 501.5) scale(1 1.04)" text-anchor="end" font-size="22.9">0.5</text>
<text transform="translate(1426.8 403.9) scale(1 1.04)" text-anchor="end" font-size="22.9">0.6</text>
<text transform="translate(1385 540) rotate(-90) scale(1 1.04)" text-anchor="middle" font-size="22.9">OEF (fraction)</text>
<text transform="translate(1355.4 372.7) scale(1 1.04)" text-anchor="start" font-size="29.5" font-weight="bold">H</text>
</g>
<g id="panel-I">
<path d="M120.8 782.7L287.1 854.6M256 807.3L377.2 847.3M219.9 811.5L332.6 923M192.7 852.2L228.9 858.4M251.3 887.9L381.7 941.1M287.3 911.3L337.1 926.7M156.6 893.9L300.6 924.7M179.1 902.5L359.2 954.1M179.1 902.5L309.8 954.1M179.1 918L300.6 935.8M179.1 926.3L323.4 986.6M201.9 917.2L318.9 948.8M224.4 918L309.8 954.1M237.7 919.2L345.9 965.8M197.2 942.5L399.7 983.3M282.3 951.6L323.1 969.4M183.6 959.1L323.1 994.1M192.7 968.6L332.6 992.4M206.4 970.8L345.6 989.4M229 970.8L355.1 986.1M206.4 981.6L372.5 994.9M256 977.4L372.5 987.4M269.3 969.9L309.8 954.1M269.3 978.3L350.4 977.4M282.3 983.8L386.4 1010.4M206.4 993.3L350.4 1009.4M242.4 992.4L332.3 1014.9M251.5 989.1L381.7 1019.9" stroke="#000" stroke-width="2.3" fill="none"/>
<g fill="#000"><circle cx="237.7" cy="793.1" r="6.2"/><circle cx="165.6" cy="917.2" r="6.2"/><circle cx="296" cy="924.2" r="6.2"/><circle cx="215.2" cy="957" r="6.2"/><circle cx="134.1" cy="972.9" r="6.2"/><circle cx="120.8" cy="782.7" r="6.2"/><circle cx="256" cy="807.3" r="6.2"/><circle cx="219.9" cy="811.5" r="6.2"/><circle cx="192.7" cy="852.2" r="6.2"/><circle cx="251.3" cy="887.9" r="6.2"/><circle cx="287.3" cy="911.3" r="6.2"/><circle cx="156.6" cy="893.9" r="6.2"/><circle cx="179.1" cy="902.5" r="6.2"/><circle cx="179.1" cy="902.5" r="6.2"/><circle cx="179.1" cy="918" r="6.2"/><circle cx="179.1" cy="926.3" r="6.2"/><circle cx="201.9" cy="917.2" r="6.2"/><circle cx="224.4" cy="918" r="6.2"/><circle cx="237.7" cy="919.2" r="6.2"/><circle cx="197.2" cy="942.5" r="6.2"/><circle cx="282.3" cy="951.6" r="6.2"/><circle cx="183.6" cy="959.1" r="6.2"/><circle cx="192.7" cy="968.6" r="6.2"/><circle cx="206.4" cy="970.8" r="6.2"/><circle cx="229" cy="970.8" r="6.2"/><circle cx="206.4" cy="981.6" r="6.2"/><circle cx="256" cy="977.4" r="6.2"/><circle cx="269.3" cy="969.9" r="6.2"/><circle cx="269.3" cy="978.3" r="6.2"/><circle cx="282.3" cy="983.8" r="6.2"/><circle cx="206.4" cy="993.3" r="6.2"/><circle cx="242.4" cy="992.4" r="6.2"/><circle cx="251.5" cy="989.1" r="6.2"/></g>
<g fill="#fff" stroke="#000" stroke-width="2.2"><circle cx="224.7" cy="952.5" r="5.1"/><circle cx="327.9" cy="960" r="5.1"/><circle cx="287.1" cy="854.6" r="5.1"/><circle cx="377.2" cy="847.3" r="5.1"/><circle cx="332.6" cy="923" r="5.1"/><circle cx="228.9" cy="858.4" r="5.1"/><circle cx="381.7" cy="941.1" r="5.1"/><circle cx="337.1" cy="926.7" r="5.1"/><circle cx="300.6" cy="924.7" r="5.1"/><circle cx="359.2" cy="954.1" r="5.1"/><circle cx="309.8" cy="954.1" r="5.1"/><circle cx="300.6" cy="935.8" r="5.1"/><circle cx="323.4" cy="986.6" r="5.1"/><circle cx="318.9" cy="948.8" r="5.1"/><circle cx="309.8" cy="954.1" r="5.1"/><circle cx="345.9" cy="965.8" r="5.1"/><circle cx="399.7" cy="983.3" r="5.1"/><circle cx="323.1" cy="969.4" r="5.1"/><circle cx="323.1" cy="994.1" r="5.1"/><circle cx="332.6" cy="992.4" r="5.1"/><circle cx="345.6" cy="989.4" r="5.1"/><circle cx="355.1" cy="986.1" r="5.1"/><circle cx="372.5" cy="994.9" r="5.1"/><circle cx="372.5" cy="987.4" r="5.1"/><circle cx="309.8" cy="954.1" r="5.1"/><circle cx="350.4" cy="977.4" r="5.1"/><circle cx="386.4" cy="1010.4" r="5.1"/><circle cx="350.4" cy="1009.4" r="5.1"/><circle cx="332.3" cy="1014.9" r="5.1"/><circle cx="381.7" cy="1019.9" r="5.1"/></g>
<rect x="76.2" y="761.2" width="360" height="280" fill="none" stroke="#858585" stroke-width="1.5"/>
<path d="M166.2 1041.2v-3.3M166.2 761.2v3.3M256.2 1041.2v-3.3M256.2 761.2v3.3M346.2 1041.2v-3.3M346.2 761.2v3.3M76.2 961.5h3.3M436.2 961.5h-3.3M76.2 881.9h3.3M436.2 881.9h-3.3M76.2 802.2h3.3M436.2 802.2h-3.3" stroke="#858585" stroke-width="1.2" fill="none"/>
<text transform="translate(76.2 1073.7) scale(1 1.04)" text-anchor="middle" font-size="24">6</text>
<text transform="translate(166.2 1073.7) scale(1 1.04)" text-anchor="middle" font-size="24">8</text>
<text transform="translate(256.2 1073.7) scale(1 1.04)" text-anchor="middle" font-size="24">10</text>
<text transform="translate(346.2 1073.7) scale(1 1.04)" text-anchor="middle" font-size="24">12</text>
<text transform="translate(436.2 1073.7) scale(1 1.04)" text-anchor="middle" font-size="24">14</text>
<text transform="translate(68.8 1051.6) scale(1 1.04)" text-anchor="end" font-size="24">2</text>
<text transform="translate(68.8 971.9) scale(1 1.04)" text-anchor="end" font-size="24">4</text>
<text transform="translate(68.8 892.3) scale(1 1.04)" text-anchor="end" font-size="24">6</text>
<text transform="translate(68.8 812.6) scale(1 1.04)" text-anchor="end" font-size="24">8</text>
<clipPath id="clip-I"><rect x="0" y="0" width="1772" height="1109"/></clipPath>
<g clip-path="url(#clip-I)"><text transform="translate(256 1107.5) scale(1 1.04)" text-anchor="middle" font-size="24.6">Hb (g/dL)</text></g>
<text transform="translate(44 901) rotate(-90) scale(1 1.04)" text-anchor="middle" font-size="24.6">CBV (mL/100g)</text>
<text transform="translate(6.9 757.2) scale(1 1.04)" text-anchor="start" font-size="29.5" font-weight="bold">I</text>
</g>
<g id="panel-J">
<path d="M662.6 780L768 852.9M735 805.1L791.9 845.2M767.6 809.3L797.9 921.6M723.1 850.2L858.7 856.7M623.7 885.7L716.2 939.2M735 891.5L788.7 951.9M765.7 900.5L819.4 922.9M553.6 915.8L665.9 964.2M688.5 909.1L730.5 924.5M704.3 922.5L773.9 951.9M733 916.2L830.9 1018.5M758 957.1L804 991.6M769.1 914.9L820.3 985.5M829.9 940.4L867 981.4M608.3 955.2L715.8 983.9M702.9 949.4L746.9 967.2M654 924.1L731.7 975.7M689.9 968.6L731.7 975.7M694.7 975.9L743.2 984.5M732.7 982.6L773.3 986.8M690.8 991.2L767 1007.5M784.8 968.6L821.3 992.6M801.5 966.7L820.3 985.5" stroke="#000" stroke-width="2.3" fill="none"/>
<g fill="#000"><circle cx="662" cy="791.5" r="6.2"/><circle cx="660.5" cy="914.9" r="6.2"/><circle cx="711.9" cy="917.4" r="6.2"/><circle cx="613.1" cy="970.9" r="6.2"/><circle cx="617" cy="976.3" r="6.2"/><circle cx="839.9" cy="979.1" r="6.2"/><circle cx="783.5" cy="987.2" r="6.2"/><circle cx="791.2" cy="991.6" r="6.2"/><circle cx="662.6" cy="780" r="6.2"/><circle cx="735" cy="805.1" r="6.2"/><circle cx="767.6" cy="809.3" r="6.2"/><circle cx="723.1" cy="850.2" r="6.2"/><circle cx="623.7" cy="885.7" r="6.2"/><circle cx="735" cy="891.5" r="6.2"/><circle cx="765.7" cy="900.5" r="6.2"/><circle cx="553.6" cy="915.8" r="6.2"/><circle cx="688.5" cy="909.1" r="6.2"/><circle cx="704.3" cy="922.5" r="6.2"/><circle cx="733" cy="916.2" r="6.2"/><circle cx="758" cy="957.1" r="6.2"/><circle cx="769.1" cy="914.9" r="6.2"/><circle cx="829.9" cy="940.4" r="6.2"/><circle cx="608.3" cy="955.2" r="6.2"/><circle cx="702.9" cy="949.4" r="6.2"/><circle cx="654" cy="924.1" r="6.2"/><circle cx="689.9" cy="968.6" r="6.2"/><circle cx="694.7" cy="975.9" r="6.2"/><circle cx="732.7" cy="982.6" r="6.2"/><circle cx="690.8" cy="991.2" r="6.2"/><circle cx="784.8" cy="968.6" r="6.2"/><circle cx="801.5" cy="966.7" r="6.2"/></g>
<g fill="#fff" stroke="#000" stroke-width="2.2"><circle cx="800.8" cy="950.7" r="5.1"/><circle cx="768.5" cy="958.4" r="5.1"/><circle cx="787.7" cy="990.3" r="5.1"/><circle cx="834.2" cy="1008.9" r="5.1"/><circle cx="768" cy="852.9" r="5.1"/><circle cx="791.9" cy="845.2" r="5.1"/><circle cx="797.9" cy="921.6" r="5.1"/><circle cx="858.7" cy="856.7" r="5.1"/><circle cx="716.2" cy="939.2" r="5.1"/><circle cx="788.7" cy="951.9" r="5.1"/><circle cx="819.4" cy="922.9" r="5.1"/><circle cx="665.9" cy="964.2" r="5.1"/><circle cx="730.5" cy="924.5" r="5.1"/><circle cx="773.9" cy="951.9" r="5.1"/><circle cx="830.9" cy="1018.5" r="5.1"/><circle cx="804" cy="991.6" r="5.1"/><circle cx="820.3" cy="985.5" r="5.1"/><circle cx="867" cy="981.4" r="5.1"/><circle cx="715.8" cy="983.9" r="5.1"/><circle cx="746.9" cy="967.2" r="5.1"/><circle cx="731.7" cy="975.7" r="5.1"/><circle cx="731.7" cy="975.7" r="5.1"/><circle cx="743.2" cy="984.5" r="5.1"/><circle cx="773.3" cy="986.8" r="5.1"/><circle cx="767" cy="1007.5" r="5.1"/><circle cx="821.3" cy="992.6" r="5.1"/><circle cx="820.3" cy="985.5" r="5.1"/></g>
<rect x="528.2" y="759.5" width="360" height="280" fill="none" stroke="#858585" stroke-width="1.5"/>
<path d="M605.2 1039.5v-3.3M605.2 759.5v3.3M708 1039.5v-3.3M708 759.5v3.3M810.8 1039.5v-3.3M810.8 759.5v3.3M528.2 959.7h3.3M888.2 959.7h-3.3M528.2 880h3.3M888.2 880h-3.3M528.2 800.2h3.3M888.2 800.2h-3.3" stroke="#858585" stroke-width="1.2" fill="none"/>
<text transform="translate(605.2 1071.7) scale(1 1.04)" text-anchor="middle" font-size="24">40</text>
<text transform="translate(708 1071.7) scale(1 1.04)" text-anchor="middle" font-size="24">60</text>
<text transform="translate(810.8 1071.7) scale(1 1.04)" text-anchor="middle" font-size="24">80</text>
<text transform="translate(520.8 1049.9) scale(1 1.04)" text-anchor="end" font-size="24">2</text>
<text transform="translate(520.8 970.1) scale(1 1.04)" text-anchor="end" font-size="24">4</text>
<text transform="translate(520.8 890.4) scale(1 1.04)" text-anchor="end" font-size="24">6</text>
<text transform="translate(520.8 810.6) scale(1 1.04)" text-anchor="end" font-size="24">8</text>
<text transform="translate(708 1105) scale(1 1.04)" text-anchor="middle" font-size="24.6">HbA (%)</text>
<text transform="translate(497 900) rotate(-90) scale(1 1.04)" text-anchor="middle" font-size="24.6">CBV (mL/100g)</text>
<text transform="translate(461.4 757.2) scale(1 1.04)" text-anchor="start" font-size="29.5" font-weight="bold">J</text>
</g>
<g id="panel-K">
<g fill="#000"><circle cx="1261.6" cy="781.3" r="6.2"/><circle cx="1203.5" cy="792.3" r="6.2"/><circle cx="1232.4" cy="805.9" r="6.2"/><circle cx="1118.8" cy="810.1" r="6.2"/><circle cx="1250.2" cy="850.7" r="6.2"/><circle cx="1218.9" cy="886.6" r="6.2"/><circle cx="1132.9" cy="892.5" r="6.2"/><circle cx="1290.7" cy="901.2" r="6.2"/><circle cx="1037.7" cy="916.8" r="6.2"/><circle cx="1086.7" cy="922.7" r="6.2"/><circle cx="1189.6" cy="915.6" r="6.2"/><circle cx="1224.8" cy="909.6" r="6.2"/><circle cx="1232.8" cy="915.9" r="6.2"/><circle cx="1221.8" cy="917.9" r="6.2"/><circle cx="1300.5" cy="917.1" r="6.2"/><circle cx="1267" cy="924.7" r="6.2"/><circle cx="1280.2" cy="941.3" r="6.2"/><circle cx="1232.4" cy="950.3" r="6.2"/><circle cx="1217.5" cy="956.5" r="6.2"/><circle cx="1269.2" cy="957.7" r="6.2"/><circle cx="1113.9" cy="969.2" r="6.2"/><circle cx="1141.9" cy="971.4" r="6.2"/><circle cx="1160" cy="976.3" r="6.2"/><circle cx="1130.4" cy="982.4" r="6.2"/><circle cx="1198.4" cy="967.2" r="6.2"/><circle cx="1212.1" cy="976" r="6.2"/><circle cx="1256.5" cy="969.2" r="6.2"/><circle cx="1264.9" cy="969.6" r="6.2"/><circle cx="1233.3" cy="987.9" r="6.2"/><circle cx="1278.5" cy="978.9" r="6.2"/></g>
<g fill="#fff" stroke="#000" stroke-width="2.2"><circle cx="1232.4" cy="846.2" r="5.1"/><circle cx="1261.6" cy="853.6" r="5.1"/><circle cx="1250" cy="857.5" r="5.1"/><circle cx="1118.5" cy="921.8" r="5.1"/><circle cx="1086.7" cy="934.5" r="5.1"/><circle cx="1225.2" cy="925.2" r="5.1"/><circle cx="1290.3" cy="923.9" r="5.1"/><circle cx="1218.9" cy="939.9" r="5.1"/><circle cx="1160" cy="947.6" r="5.1"/><circle cx="1132.9" cy="952.8" r="5.1"/><circle cx="1222.6" cy="952.8" r="5.1"/><circle cx="1214.7" cy="951" r="5.1"/><circle cx="1037.7" cy="964.7" r="5.1"/><circle cx="1300.5" cy="959.1" r="5.1"/><circle cx="1232.3" cy="968" r="5.1"/><circle cx="1256.1" cy="976.5" r="5.1"/><circle cx="1280.5" cy="981.9" r="5.1"/><circle cx="1189.6" cy="986.2" r="5.1"/><circle cx="1211.6" cy="987.9" r="5.1"/><circle cx="1217.5" cy="984.1" r="5.1"/><circle cx="1256.5" cy="990.9" r="5.1"/><circle cx="1264.9" cy="993.4" r="5.1"/><circle cx="1269.5" cy="992.1" r="5.1"/><circle cx="1267" cy="985" r="5.1"/><circle cx="1113.9" cy="1009.4" r="5.1"/><circle cx="1233.1" cy="1012.9" r="5.1"/><circle cx="1269.7" cy="1007.7" r="5.1"/><circle cx="1260.7" cy="1018.8" r="5.1"/></g>
<rect x="975.8" y="760" width="360" height="280.2" fill="none" stroke="#858585" stroke-width="1.5"/>
<path d="M1065.8 1040.2v-3.3M1065.8 760v3.3M1155.8 1040.2v-3.3M1155.8 760v3.3M1245.8 1040.2v-3.3M1245.8 760v3.3M975.8 960.4h3.3M1335.8 960.4h-3.3M975.8 880.6h3.3M1335.8 880.6h-3.3M975.8 800.8h3.3M1335.8 800.8h-3.3" stroke="#858585" stroke-width="1.2" fill="none"/>
<text transform="translate(975.8 1072.2) scale(1 1.04)" text-anchor="middle" font-size="24">0</text>
<text transform="translate(1065.8 1072.2) scale(1 1.04)" text-anchor="middle" font-size="24">5</text>
<text transform="translate(1155.8 1072.2) scale(1 1.04)" text-anchor="middle" font-size="24">10</text>
<text transform="translate(1245.8 1072.2) scale(1 1.04)" text-anchor="middle" font-size="24">15</text>
<text transform="translate(1335.8 1072.2) scale(1 1.04)" text-anchor="middle" font-size="24">20</text>
<text transform="translate(968.3 1050.6) scale(1 1.04)" text-anchor="end" font-size="24">2</text>
<text transform="translate(968.3 970.8) scale(1 1.04)" text-anchor="end" font-size="24">4</text>
<text transform="translate(968.3 891) scale(1 1.04)" text-anchor="end" font-size="24">6</text>
<text transform="translate(968.3 811.2) scale(1 1.04)" text-anchor="end" font-size="24">8</text>
<text transform="translate(1155.5 1105.5) scale(1 1.04)" text-anchor="middle" font-size="24.6">Age (yr)</text>
<text transform="translate(944.5 900) rotate(-90) scale(1 1.04)" text-anchor="middle" font-size="24.6">CBV (mL/100g)</text>
<text transform="translate(906.4 757.2) scale(1 1.04)" text-anchor="start" font-size="29.5" font-weight="bold">K</text>
</g>
<g id="panel-L">
<path d="M1514.6 781.4h7M1518.1 777.9v7" stroke="#a01030" stroke-width="1.1"/>
<path d="M1514.6 807.3h7M1518.1 803.8v7" stroke="#a01030" stroke-width="1.1"/>
<path d="M1514.6 811.1h7M1518.1 807.6v7" stroke="#a01030" stroke-width="1.1"/>
<path d="M1518.1 847.9V920.6" stroke="#000" stroke-width="2.0" stroke-dasharray="9.3 7.6" stroke-dashoffset="5" fill="none"/><path d="M1518.1 992.2V1025.2" stroke="#000" stroke-width="2.0" stroke-dasharray="9.3 7.6" stroke-dashoffset="0" fill="none"/>
<path d="M1507.1 847.9H1529.3M1507.1 1025.2H1529.3M1495 959.9H1541" stroke="#000" stroke-width="2.0" fill="none"/>
<rect x="1495" y="920.6" width="46" height="71.6" fill="none" stroke="#000" stroke-width="2.0"/>
<path d="M1670.3 853V920.6" stroke="#6b6b6b" stroke-width="1.6" stroke-dasharray="9.3 7.6" stroke-dashoffset="5" fill="none"/><path d="M1670.3 981.9V993.3" stroke="#6b6b6b" stroke-width="1.6" stroke-dasharray="9.3 7.6" stroke-dashoffset="0" fill="none"/>
<path d="M1659.1 853H1681.3M1659.1 993.3H1681.3M1647.8 956.1H1693.4" stroke="#6b6b6b" stroke-width="1.6" fill="none"/>
<rect x="1647.8" y="920.6" width="45.6" height="61.3" fill="none" stroke="#6b6b6b" stroke-width="1.6"/>
<circle cx="1518.1" cy="781.4" r="5.8" fill="#000"/><circle cx="1518.1" cy="806.5" r="5.8" fill="#000"/><circle cx="1518.1" cy="811.5" r="5.8" fill="#000"/><circle cx="1518.1" cy="889" r="5.8" fill="#000"/><circle cx="1518.1" cy="895.3" r="5.8" fill="#000"/><circle cx="1518.1" cy="904.4" r="5.8" fill="#000"/><circle cx="1518.1" cy="919.7" r="5.8" fill="#000"/><circle cx="1518.1" cy="938.6" r="5.8" fill="#000"/><circle cx="1518.1" cy="945" r="5.8" fill="#000"/><circle cx="1518.1" cy="957.6" r="5.8" fill="#000"/><circle cx="1518.1" cy="974.7" r="5.8" fill="#000"/><circle cx="1518.1" cy="1020.7" r="5.8" fill="#000"/><circle cx="1518.1" cy="846.7" r="4.800000000000001" fill="#fff" stroke="#000" stroke-width="2.1"/><circle cx="1518.1" cy="855.7" r="4.800000000000001" fill="#fff" stroke="#000" stroke-width="2.1"/><circle cx="1518.1" cy="927.8" r="4.800000000000001" fill="#fff" stroke="#000" stroke-width="2.1"/><circle cx="1518.1" cy="964.4" r="4.800000000000001" fill="#fff" stroke="#000" stroke-width="2.1"/><circle cx="1518.1" cy="970.2" r="4.800000000000001" fill="#fff" stroke="#000" stroke-width="2.1"/><circle cx="1518.1" cy="981.4" r="4.800000000000001" fill="#fff" stroke="#000" stroke-width="2.1"/><circle cx="1518.1" cy="991.8" r="4.800000000000001" fill="#fff" stroke="#000" stroke-width="2.1"/><circle cx="1518.1" cy="998.2" r="4.800000000000001" fill="#fff" stroke="#000" stroke-width="2.1"/><circle cx="1518.1" cy="1014.4" r="4.800000000000001" fill="#fff" stroke="#000" stroke-width="2.1"/><circle cx="1518.1" cy="1025.2" r="4.800000000000001" fill="#fff" stroke="#000" stroke-width="2.1"/><circle cx="1670.3" cy="912.5" r="5.8" fill="#000"/><circle cx="1670.3" cy="917.9" r="5.8" fill="#000"/><circle cx="1670.3" cy="923.3" r="5.8" fill="#000"/><circle cx="1670.3" cy="962.1" r="5.8" fill="#000"/><circle cx="1670.3" cy="982.8" r="5.8" fill="#000"/><circle cx="1670.3" cy="994.5" r="5.8" fill="#000"/><circle cx="1670.3" cy="852.1" r="4.800000000000001" fill="#fff" stroke="#000" stroke-width="2.1"/><circle cx="1670.3" cy="859.6" r="4.800000000000001" fill="#fff" stroke="#000" stroke-width="2.1"/><circle cx="1670.3" cy="929.6" r="4.800000000000001" fill="#fff" stroke="#000" stroke-width="2.1"/><circle cx="1670.3" cy="952.2" r="4.800000000000001" fill="#fff" stroke="#000" stroke-width="2.1"/><circle cx="1670.3" cy="957.6" r="4.800000000000001" fill="#fff" stroke="#000" stroke-width="2.1"/><circle cx="1670.3" cy="973.4" r="4.800000000000001" fill="#fff" stroke="#000" stroke-width="2.1"/><circle cx="1670.3" cy="989.7" r="4.800000000000001" fill="#fff" stroke="#000" stroke-width="2.1"/>
<path d="M1507.1 847.9H1529.3M1507.1 1025.2H1529.3M1495 959.9H1541M1495 920.6H1541M1495 992.2H1541" stroke="#000" stroke-width="2.0" fill="none" opacity="1"/>
<path d="M1518.1 847.9V920.6" stroke="#000" stroke-width="2.0" stroke-dasharray="9.3 7.6" stroke-dashoffset="5" fill="none"/><path d="M1518.1 992.2V1025.2" stroke="#000" stroke-width="2.0" stroke-dasharray="9.3 7.6" stroke-dashoffset="0" fill="none"/>
<path d="M1515.1 781.4h6M1518.1 778.4v6" stroke="#8e1028" stroke-width="1"/>
<path d="M1515.1 807.3h6M1518.1 804.3v6" stroke="#8e1028" stroke-width="1"/>
<path d="M1515.1 811.1h6M1518.1 808.1v6" stroke="#8e1028" stroke-width="1"/>
<path d="M1659.1 853H1681.3M1659.1 993.3H1681.3M1647.8 956.1H1693.4M1647.8 920.6H1693.4M1647.8 981.9H1693.4" stroke="#6b6b6b" stroke-width="1.6" fill="none" opacity="1"/>
<path d="M1670.3 853V920.6" stroke="#6b6b6b" stroke-width="1.6" stroke-dasharray="9.3 7.6" stroke-dashoffset="5" fill="none"/><path d="M1670.3 981.9V993.3" stroke="#6b6b6b" stroke-width="1.6" stroke-dasharray="9.3 7.6" stroke-dashoffset="0" fill="none"/>
<rect x="1427" y="759.5" width="334" height="288" fill="none" stroke="#858585" stroke-width="1.5"/>
<path d="M1518.2 1047.5v-3.3M1518.2 759.5v3.3M1670.2 1047.5v-3.3M1670.2 759.5v3.3M1427 965.3h3.3M1761 965.3h-3.3M1427 883h3.3M1761 883h-3.3M1427 800.8h3.3M1761 800.8h-3.3" stroke="#858585" stroke-width="1.2" fill="none"/>
<text transform="translate(1517.6 1078) scale(1 1.04)" text-anchor="middle" font-size="22.9">Female</text>
<text transform="translate(1669.6 1078) scale(1 1.04)" text-anchor="middle" font-size="22.9">Male</text>
<text transform="translate(1419.3 1057.9) scale(1 1.04)" text-anchor="end" font-size="22.9">2</text>
<text transform="translate(1419.3 975.7) scale(1 1.04)" text-anchor="end" font-size="22.9">4</text>
<text transform="translate(1419.3 893.4) scale(1 1.04)" text-anchor="end" font-size="22.9">6</text>
<text transform="translate(1419.3 811.2) scale(1 1.04)" text-anchor="end" font-size="22.9">8</text>
<text transform="translate(1397 903) rotate(-90) scale(1 1.04)" text-anchor="middle" font-size="22.9">CBV (mL/100g)</text>
<text transform="translate(1355.4 757.2) scale(1 1.04)" text-anchor="start" font-size="29.5" font-weight="bold">L</text>
</g>
<g id="panel-M">
<path d="M117.9 1407.5L281.7 1401.2M153.4 1357.4L304.2 1346.4M202.2 1343.8L379.1 1381.7M197.9 1368.8L339.3 1385.4M193.5 1381.3L374.9 1393.6M277.5 1380.4L352.8 1363.9M277.5 1380.4L348.2 1362M244.7 1395.3L295.3 1392.5M162.3 1400.9L295.3 1392.5M175.7 1401.2L317.3 1398M202.2 1400.3L322 1399.1M210.8 1401.2L343.5 1403.3M223.9 1394.4L325.9 1379.9M233.2 1393.4L392.5 1392.3M175.3 1411.3L317.3 1410.5M179.5 1411.8L330.4 1413.5M188.8 1411.3L343.5 1410.1M237.5 1410.5L374.9 1407.5M250.6 1410.5L326.2 1407.1M214.2 1406.3L365.5 1396.5M248.9 1401.2L374.9 1393.6M277.1 1408.4L343.5 1410.1M175.5 1376.8L365.5 1396.5M246.4 1374.7L325.9 1379.9" stroke="#000" stroke-width="2.3" fill="none"/>
<g fill="#000"><circle cx="188.6" cy="1360.1" r="6.2"/><circle cx="264.1" cy="1335.3" r="6.2"/><circle cx="290.8" cy="1346.2" r="6.2"/><circle cx="365.5" cy="1399.5" r="6.2"/><circle cx="220" cy="1150" r="6.2"/><circle cx="131.8" cy="1302.3" r="6.2"/><circle cx="117.9" cy="1407.5" r="6.2"/><circle cx="153.4" cy="1357.4" r="6.2"/><circle cx="202.2" cy="1343.8" r="6.2"/><circle cx="197.9" cy="1368.8" r="6.2"/><circle cx="193.5" cy="1381.3" r="6.2"/><circle cx="277.5" cy="1380.4" r="6.2"/><circle cx="277.5" cy="1380.4" r="6.2"/><circle cx="244.7" cy="1395.3" r="6.2"/><circle cx="162.3" cy="1400.9" r="6.2"/><circle cx="175.7" cy="1401.2" r="6.2"/><circle cx="202.2" cy="1400.3" r="6.2"/><circle cx="210.8" cy="1401.2" r="6.2"/><circle cx="223.9" cy="1394.4" r="6.2"/><circle cx="233.2" cy="1393.4" r="6.2"/><circle cx="175.3" cy="1411.3" r="6.2"/><circle cx="179.5" cy="1411.8" r="6.2"/><circle cx="188.8" cy="1411.3" r="6.2"/><circle cx="237.5" cy="1410.5" r="6.2"/><circle cx="250.6" cy="1410.5" r="6.2"/><circle cx="214.2" cy="1406.3" r="6.2"/><circle cx="248.9" cy="1401.2" r="6.2"/><circle cx="277.1" cy="1408.4" r="6.2"/><circle cx="175.5" cy="1376.8" r="6.2"/><circle cx="246.4" cy="1374.7" r="6.2"/></g>
<g fill="#fff" stroke="#000" stroke-width="2.2"><circle cx="295.1" cy="1355.2" r="5.1"/><circle cx="325.9" cy="1346.4" r="5.1"/><circle cx="224.1" cy="1405.8" r="5.1"/><circle cx="281.7" cy="1401.2" r="5.1"/><circle cx="304.2" cy="1346.4" r="5.1"/><circle cx="379.1" cy="1381.7" r="5.1"/><circle cx="339.3" cy="1385.4" r="5.1"/><circle cx="374.9" cy="1393.6" r="5.1"/><circle cx="352.8" cy="1363.9" r="5.1"/><circle cx="348.2" cy="1362" r="5.1"/><circle cx="295.3" cy="1392.5" r="5.1"/><circle cx="295.3" cy="1392.5" r="5.1"/><circle cx="317.3" cy="1398" r="5.1"/><circle cx="322" cy="1399.1" r="5.1"/><circle cx="343.5" cy="1403.3" r="5.1"/><circle cx="325.9" cy="1379.9" r="5.1"/><circle cx="392.5" cy="1392.3" r="5.1"/><circle cx="317.3" cy="1410.5" r="5.1"/><circle cx="330.4" cy="1413.5" r="5.1"/><circle cx="343.5" cy="1410.1" r="5.1"/><circle cx="374.9" cy="1407.5" r="5.1"/><circle cx="326.2" cy="1407.1" r="5.1"/><circle cx="365.5" cy="1396.5" r="5.1"/><circle cx="374.9" cy="1393.6" r="5.1"/><circle cx="343.5" cy="1410.1" r="5.1"/><circle cx="365.5" cy="1396.5" r="5.1"/><circle cx="325.9" cy="1379.9" r="5.1"/></g>
<rect x="74.2" y="1138.5" width="353.8" height="280.7" fill="none" stroke="#858585" stroke-width="1.5"/>
<path d="M162.7 1419.2v-3.3M162.7 1138.5v3.3M251.1 1419.2v-3.3M251.1 1138.5v3.3M339.6 1419.2v-3.3M339.6 1138.5v3.3M74.2 1332.8h3.3M428 1332.8h-3.3M74.2 1246.4h3.3M428 1246.4h-3.3M74.2 1160h3.3M428 1160h-3.3" stroke="#858585" stroke-width="1.2" fill="none"/>
<text transform="translate(74.2 1451.7) scale(1 1.04)" text-anchor="middle" font-size="24">6</text>
<text transform="translate(162.7 1451.7) scale(1 1.04)" text-anchor="middle" font-size="24">8</text>
<text transform="translate(251.1 1451.7) scale(1 1.04)" text-anchor="middle" font-size="24">10</text>
<text transform="translate(339.6 1451.7) scale(1 1.04)" text-anchor="middle" font-size="24">12</text>
<text transform="translate(428 1451.7) scale(1 1.04)" text-anchor="middle" font-size="24">14</text>
<text transform="translate(66.8 1429.6) scale(1 1.04)" text-anchor="end" font-size="24">0</text>
<text transform="translate(66.8 1343.2) scale(1 1.04)" text-anchor="end" font-size="24">2</text>
<text transform="translate(66.8 1256.8) scale(1 1.04)" text-anchor="end" font-size="24">4</text>
<text transform="translate(66.8 1170.4) scale(1 1.04)" text-anchor="end" font-size="24">6</text>
<text transform="translate(251 1485) scale(1 1.04)" text-anchor="middle" font-size="24.6">Hb (g/dL)</text>
<text transform="translate(32 1280) rotate(-90) scale(1 1.04)" text-anchor="middle" font-size="24.6">CMRO<tspan dy="12" dx="0.8" font-size="20.5">2i</tspan></text>
<text transform="translate(6.4 1113.2) scale(1 1.04)" text-anchor="start" font-size="29.5" font-weight="bold">M</text>
</g>
<g id="panel-N">
<path d="M611 1403L717.2 1363.5M626.4 1376L717.2 1395.3M736.1 1358.7L788.3 1347.7M712.6 1394.8L774.1 1365.2M768.9 1369.9L798.1 1381M766.2 1378.2L819.2 1393.6M828.1 1382.6L865.8 1393.7M784.5 1396.5L820.1 1398.6M784.5 1396.5L798.1 1381M733.8 1402.9L773.9 1387.2M759.1 1412.2L804.2 1403.9M790.4 1411.3L830.2 1408.8M839.5 1402.5L857.6 1407.3M768.9 1408L830.2 1408.8M656.3 1413L731.2 1416.4M662.5 1402.2L747.6 1399.5M664.8 1408.4L732.5 1411.3M690.4 1400.8L747.6 1399.5M692.7 1406.3L744.3 1411.8M696.1 1410.5L767.6 1405M704.1 1410.5L768.9 1399.5M724.4 1412.2L767.6 1405" stroke="#000" stroke-width="2.3" fill="none"/>
<g fill="#000"><circle cx="733.6" cy="1381.9" r="6.2"/><circle cx="820.5" cy="1398.6" r="6.2"/><circle cx="720.2" cy="1406.3" r="6.2"/><circle cx="725.3" cy="1401.2" r="6.2"/><circle cx="735.4" cy="1409.7" r="6.2"/><circle cx="713.4" cy="1408" r="6.2"/><circle cx="739.7" cy="1403.7" r="6.2"/><circle cx="557.5" cy="1151.8" r="6.2"/><circle cx="616.3" cy="1303" r="6.2"/><circle cx="619.3" cy="1336.7" r="6.2"/><circle cx="705.8" cy="1347.7" r="6.2"/><circle cx="801.6" cy="1361.4" r="6.2"/><circle cx="611" cy="1403" r="6.2"/><circle cx="626.4" cy="1376" r="6.2"/><circle cx="736.1" cy="1358.7" r="6.2"/><circle cx="712.6" cy="1394.8" r="6.2"/><circle cx="768.9" cy="1369.9" r="6.2"/><circle cx="766.2" cy="1378.2" r="6.2"/><circle cx="828.1" cy="1382.6" r="6.2"/><circle cx="784.5" cy="1396.5" r="6.2"/><circle cx="784.5" cy="1396.5" r="6.2"/><circle cx="733.8" cy="1402.9" r="6.2"/><circle cx="759.1" cy="1412.2" r="6.2"/><circle cx="790.4" cy="1411.3" r="6.2"/><circle cx="839.5" cy="1402.5" r="6.2"/><circle cx="768.9" cy="1408" r="6.2"/><circle cx="656.3" cy="1413" r="6.2"/><circle cx="662.5" cy="1402.2" r="6.2"/><circle cx="664.8" cy="1408.4" r="6.2"/><circle cx="690.4" cy="1400.8" r="6.2"/><circle cx="692.7" cy="1406.3" r="6.2"/><circle cx="696.1" cy="1410.5" r="6.2"/><circle cx="704.1" cy="1410.5" r="6.2"/><circle cx="724.4" cy="1412.2" r="6.2"/></g>
<g fill="#fff" stroke="#000" stroke-width="2.2"><circle cx="833.6" cy="1383" r="5.1"/><circle cx="717.2" cy="1363.5" r="5.1"/><circle cx="717.2" cy="1395.3" r="5.1"/><circle cx="788.3" cy="1347.7" r="5.1"/><circle cx="774.1" cy="1365.2" r="5.1"/><circle cx="798.1" cy="1381" r="5.1"/><circle cx="819.2" cy="1393.6" r="5.1"/><circle cx="865.8" cy="1393.7" r="5.1"/><circle cx="820.1" cy="1398.6" r="5.1"/><circle cx="798.1" cy="1381" r="5.1"/><circle cx="773.9" cy="1387.2" r="5.1"/><circle cx="804.2" cy="1403.9" r="5.1"/><circle cx="830.2" cy="1408.8" r="5.1"/><circle cx="857.6" cy="1407.3" r="5.1"/><circle cx="830.2" cy="1408.8" r="5.1"/><circle cx="731.2" cy="1416.4" r="5.1"/><circle cx="747.6" cy="1399.5" r="5.1"/><circle cx="732.5" cy="1411.3" r="5.1"/><circle cx="747.6" cy="1399.5" r="5.1"/><circle cx="744.3" cy="1411.8" r="5.1"/><circle cx="767.6" cy="1405" r="5.1"/><circle cx="768.9" cy="1399.5" r="5.1"/><circle cx="767.6" cy="1405" r="5.1"/></g>
<rect x="532.5" y="1140" width="354.3" height="280.5" fill="none" stroke="#858585" stroke-width="1.5"/>
<path d="M608 1420.5v-3.3M608 1140v3.3M709.1 1420.5v-3.3M709.1 1140v3.3M810.2 1420.5v-3.3M810.2 1140v3.3M532.5 1334.2h3.3M886.8 1334.2h-3.3M532.5 1247.8h3.3M886.8 1247.8h-3.3M532.5 1161.5h3.3M886.8 1161.5h-3.3" stroke="#858585" stroke-width="1.2" fill="none"/>
<text transform="translate(608 1452.7) scale(1 1.04)" text-anchor="middle" font-size="24">40</text>
<text transform="translate(709.1 1452.7) scale(1 1.04)" text-anchor="middle" font-size="24">60</text>
<text transform="translate(810.2 1452.7) scale(1 1.04)" text-anchor="middle" font-size="24">80</text>
<text transform="translate(524.8 1430.9) scale(1 1.04)" text-anchor="end" font-size="24">0</text>
<text transform="translate(524.8 1344.6) scale(1 1.04)" text-anchor="end" font-size="24">2</text>
<text transform="translate(524.8 1258.2) scale(1 1.04)" text-anchor="end" font-size="24">4</text>
<text transform="translate(524.8 1171.9) scale(1 1.04)" text-anchor="end" font-size="24">6</text>
<text transform="translate(709 1487) scale(1 1.04)" text-anchor="middle" font-size="24.6">HbA (%)</text>
<text transform="translate(490 1281) rotate(-90) scale(1 1.04)" text-anchor="middle" font-size="24.6">CMRO<tspan dy="12" dx="0.8" font-size="20.5">2i</tspan></text>
<text transform="translate(461.4 1113.2) scale(1 1.04)" text-anchor="start" font-size="29.5" font-weight="bold">N</text>
</g>
<g id="panel-O">
<g fill="#000"><circle cx="1040.8" cy="1153" r="6.2"/><circle cx="1143.8" cy="1304.8" r="6.2"/><circle cx="1089" cy="1348.9" r="6.2"/><circle cx="1116.1" cy="1346.6" r="6.2"/><circle cx="1134.3" cy="1359.9" r="6.2"/><circle cx="1161.1" cy="1338.1" r="6.2"/><circle cx="1132.1" cy="1383.4" r="6.2"/><circle cx="1120.5" cy="1409.2" r="6.2"/><circle cx="1199" cy="1362.7" r="6.2"/><circle cx="1190.6" cy="1371.7" r="6.2"/><circle cx="1219.2" cy="1377.5" r="6.2"/><circle cx="1279.9" cy="1383.8" r="6.2"/><circle cx="1289.8" cy="1379.6" r="6.2"/><circle cx="1224" cy="1396.1" r="6.2"/><circle cx="1234.2" cy="1397.8" r="6.2"/><circle cx="1218.1" cy="1403.7" r="6.2"/><circle cx="1212.6" cy="1411.3" r="6.2"/><circle cx="1234.2" cy="1412.2" r="6.2"/><circle cx="1264.7" cy="1396" r="6.2"/><circle cx="1278.6" cy="1403.7" r="6.2"/><circle cx="1299.8" cy="1405" r="6.2"/><circle cx="1249.4" cy="1413.9" r="6.2"/><circle cx="1268" cy="1413.9" r="6.2"/><circle cx="1256.2" cy="1405.4" r="6.2"/></g>
<g fill="#fff" stroke="#000" stroke-width="2.2"><circle cx="1089" cy="1357.8" r="5.1"/><circle cx="1134.3" cy="1349.1" r="5.1"/><circle cx="1120.7" cy="1382.7" r="5.1"/><circle cx="1116.1" cy="1384.7" r="5.1"/><circle cx="1190.6" cy="1398.9" r="5.1"/><circle cx="1256.6" cy="1349.1" r="5.1"/><circle cx="1223.2" cy="1366.6" r="5.1"/><circle cx="1218.1" cy="1364.8" r="5.1"/><circle cx="1212.6" cy="1388.5" r="5.1"/><circle cx="1219.2" cy="1396.8" r="5.1"/><circle cx="1232.3" cy="1400.8" r="5.1"/><circle cx="1233.3" cy="1409.9" r="5.1"/><circle cx="1225.3" cy="1416" r="5.1"/><circle cx="1279.9" cy="1395.1" r="5.1"/><circle cx="1289.8" cy="1395.1" r="5.1"/><circle cx="1299.8" cy="1402" r="5.1"/><circle cx="1263.8" cy="1399.5" r="5.1"/><circle cx="1249.8" cy="1408.4" r="5.1"/><circle cx="1261.3" cy="1403.7" r="5.1"/><circle cx="1269.3" cy="1406.3" r="5.1"/><circle cx="1255.9" cy="1413" r="5.1"/><circle cx="1266.8" cy="1413.5" r="5.1"/></g>
<rect x="980" y="1141.2" width="354.2" height="280.6" fill="none" stroke="#858585" stroke-width="1.5"/>
<path d="M1068.5 1421.8v-3.3M1068.5 1141.2v3.3M1157.1 1421.8v-3.3M1157.1 1141.2v3.3M1245.7 1421.8v-3.3M1245.7 1141.2v3.3M980 1335.5h3.3M1334.2 1335.5h-3.3M980 1249.1h3.3M1334.2 1249.1h-3.3M980 1162.8h3.3M1334.2 1162.8h-3.3" stroke="#858585" stroke-width="1.2" fill="none"/>
<text transform="translate(980 1453.7) scale(1 1.04)" text-anchor="middle" font-size="24">0</text>
<text transform="translate(1068.5 1453.7) scale(1 1.04)" text-anchor="middle" font-size="24">5</text>
<text transform="translate(1157.1 1453.7) scale(1 1.04)" text-anchor="middle" font-size="24">10</text>
<text transform="translate(1245.7 1453.7) scale(1 1.04)" text-anchor="middle" font-size="24">15</text>
<text transform="translate(1334.2 1453.7) scale(1 1.04)" text-anchor="middle" font-size="24">20</text>
<text transform="translate(972.3 1432.2) scale(1 1.04)" text-anchor="end" font-size="24">0</text>
<text transform="translate(972.3 1345.9) scale(1 1.04)" text-anchor="end" font-size="24">2</text>
<text transform="translate(972.3 1259.5) scale(1 1.04)" text-anchor="end" font-size="24">4</text>
<text transform="translate(972.3 1173.2) scale(1 1.04)" text-anchor="end" font-size="24">6</text>
<text transform="translate(1157 1488) scale(1 1.04)" text-anchor="middle" font-size="24.6">Age (yr)</text>
<text transform="translate(938.5 1283) rotate(-90) scale(1 1.04)" text-anchor="middle" font-size="24.6">CMRO<tspan dy="12" dx="0.8" font-size="20.5">2i</tspan></text>
<text transform="translate(906.4 1113.2) scale(1 1.04)" text-anchor="start" font-size="29.5" font-weight="bold">O</text>
</g>
<g id="panel-P">
<path d="M1516.6 1149.3h7M1520.1 1145.8v7" stroke="#a01030" stroke-width="1.1"/>
<path d="M1516.6 1308h7M1520.1 1304.5v7" stroke="#a01030" stroke-width="1.1"/>
<path d="M1520.1 1351.1V1384.5" stroke="#000" stroke-width="2.0" stroke-dasharray="9.3 7.6" stroke-dashoffset="5" fill="none"/><path d="M1520.1 1416.2V1422.1" stroke="#000" stroke-width="2.0" stroke-dasharray="9.3 7.6" stroke-dashoffset="0" fill="none"/>
<path d="M1508.9 1351.1H1531.4M1508.9 1422.1H1531.4M1497.2 1406.2H1542.9" stroke="#000" stroke-width="2.0" fill="none"/>
<rect x="1497.2" y="1384.5" width="45.7" height="31.7" fill="none" stroke="#000" stroke-width="2.0"/>
<path d="M1672.3 1342.2V1382" stroke="#6b6b6b" stroke-width="1.6" stroke-dasharray="9.3 7.6" stroke-dashoffset="5" fill="none"/><path d="M1672.3 1417.5V1423.4" stroke="#6b6b6b" stroke-width="1.6" stroke-dasharray="9.3 7.6" stroke-dashoffset="0" fill="none"/>
<path d="M1661.3 1342.2H1683.5M1661.3 1423.4H1683.5M1649.6 1407.9H1695.3" stroke="#6b6b6b" stroke-width="1.6" fill="none"/>
<rect x="1649.6" y="1382" width="45.7" height="35.5" fill="none" stroke="#6b6b6b" stroke-width="1.6"/>
<circle cx="1520.1" cy="1149.3" r="5.8" fill="#000"/><circle cx="1520.1" cy="1308" r="5.8" fill="#000"/><circle cx="1520.1" cy="1349.8" r="5.8" fill="#000"/><circle cx="1520.1" cy="1368.4" r="5.8" fill="#000"/><circle cx="1520.1" cy="1381.1" r="5.8" fill="#000"/><circle cx="1520.1" cy="1423.4" r="5.8" fill="#000"/><circle cx="1520.1" cy="1354.9" r="4.800000000000001" fill="#fff" stroke="#000" stroke-width="2.1"/><circle cx="1520.1" cy="1362.5" r="4.800000000000001" fill="#fff" stroke="#000" stroke-width="2.1"/><circle cx="1520.1" cy="1384.5" r="4.800000000000001" fill="#fff" stroke="#000" stroke-width="2.1"/><circle cx="1520.1" cy="1390.9" r="4.800000000000001" fill="#fff" stroke="#000" stroke-width="2.1"/><circle cx="1520.1" cy="1402.3" r="4.800000000000001" fill="#fff" stroke="#000" stroke-width="2.1"/><circle cx="1520.1" cy="1409.9" r="4.800000000000001" fill="#fff" stroke="#000" stroke-width="2.1"/><circle cx="1520.1" cy="1415" r="4.800000000000001" fill="#fff" stroke="#000" stroke-width="2.1"/><circle cx="1520.1" cy="1420.9" r="4.800000000000001" fill="#fff" stroke="#000" stroke-width="2.1"/><circle cx="1672.3" cy="1342.2" r="5.8" fill="#000"/><circle cx="1672.3" cy="1377.7" r="5.8" fill="#000"/><circle cx="1672.3" cy="1403.1" r="5.8" fill="#000"/><circle cx="1672.3" cy="1420" r="5.8" fill="#000"/><circle cx="1672.3" cy="1370.9" r="4.800000000000001" fill="#fff" stroke="#000" stroke-width="2.1"/><circle cx="1672.3" cy="1394.7" r="4.800000000000001" fill="#fff" stroke="#000" stroke-width="2.1"/><circle cx="1672.3" cy="1407.9" r="4.800000000000001" fill="#fff" stroke="#000" stroke-width="2.1"/><circle cx="1672.3" cy="1413.3" r="4.800000000000001" fill="#fff" stroke="#000" stroke-width="2.1"/><circle cx="1672.3" cy="1418.4" r="4.800000000000001" fill="#fff" stroke="#000" stroke-width="2.1"/><circle cx="1672.3" cy="1425.1" r="4.800000000000001" fill="#fff" stroke="#000" stroke-width="2.1"/>
<path d="M1508.9 1351.1H1531.4M1508.9 1422.1H1531.4M1497.2 1406.2H1542.9M1497.2 1384.5H1542.9M1497.2 1416.2H1542.9" stroke="#000" stroke-width="2.0" fill="none" opacity="1"/>
<path d="M1520.1 1351.1V1384.5" stroke="#000" stroke-width="2.0" stroke-dasharray="9.3 7.6" stroke-dashoffset="5" fill="none"/><path d="M1520.1 1416.2V1422.1" stroke="#000" stroke-width="2.0" stroke-dasharray="9.3 7.6" stroke-dashoffset="0" fill="none"/>
<path d="M1517.1 1149.3h6M1520.1 1146.3v6" stroke="#8e1028" stroke-width="1"/>
<path d="M1517.1 1308h6M1520.1 1305v6" stroke="#8e1028" stroke-width="1"/>
<path d="M1661.3 1342.2H1683.5M1661.3 1423.4H1683.5M1649.6 1407.9H1695.3M1649.6 1382H1695.3M1649.6 1417.5H1695.3" stroke="#6b6b6b" stroke-width="1.6" fill="none" opacity="1"/>
<path d="M1672.3 1342.2V1382" stroke="#6b6b6b" stroke-width="1.6" stroke-dasharray="9.3 7.6" stroke-dashoffset="5" fill="none"/><path d="M1672.3 1417.5V1423.4" stroke="#6b6b6b" stroke-width="1.6" stroke-dasharray="9.3 7.6" stroke-dashoffset="0" fill="none"/>
<rect x="1429" y="1137.5" width="334.2" height="292.3" fill="none" stroke="#858585" stroke-width="1.5"/>
<path d="M1520.2 1429.8v-3.3M1520.2 1137.5v3.3M1672.2 1429.8v-3.3M1672.2 1137.5v3.3M1429 1339.9h3.3M1763.2 1339.9h-3.3M1429 1249.9h3.3M1763.2 1249.9h-3.3M1429 1160h3.3M1763.2 1160h-3.3" stroke="#858585" stroke-width="1.2" fill="none"/>
<text transform="translate(1519.6 1461) scale(1 1.04)" text-anchor="middle" font-size="22.9">Female</text>
<text transform="translate(1671.6 1461) scale(1 1.04)" text-anchor="middle" font-size="22.9">Male</text>
<text transform="translate(1421.3 1440.2) scale(1 1.04)" text-anchor="end" font-size="22.9">0</text>
<text transform="translate(1421.3 1350.3) scale(1 1.04)" text-anchor="end" font-size="22.9">2</text>
<text transform="translate(1421.3 1260.3) scale(1 1.04)" text-anchor="end" font-size="22.9">4</text>
<text transform="translate(1421.3 1170.4) scale(1 1.04)" text-anchor="end" font-size="22.9">6</text>
<text transform="translate(1388 1282) rotate(-90) scale(1 1.04)" text-anchor="middle" font-size="22.9">CMRO<tspan dy="11" dx="0.6" font-size="18.8">2i</tspan></text>
<text transform="translate(1355.4 1113.2) scale(1 1.04)" text-anchor="start" font-size="29.5" font-weight="bold">P</text>
</g>
</svg>
</body>
</html>
